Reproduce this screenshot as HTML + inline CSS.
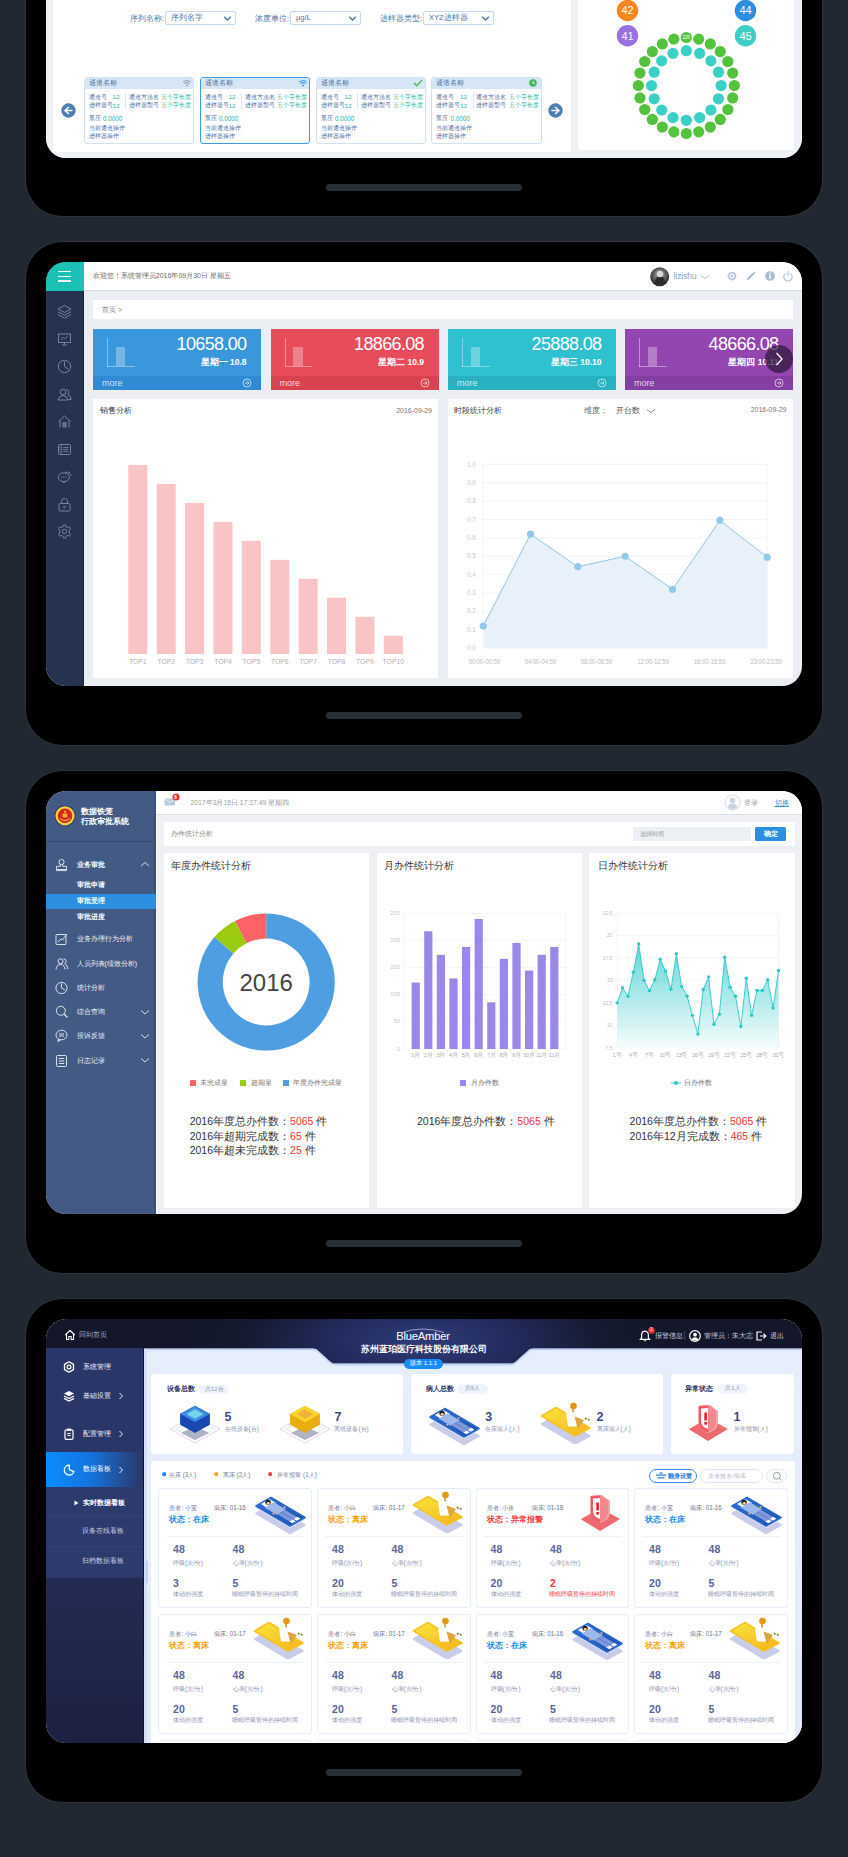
<!DOCTYPE html><html><head><meta charset="utf-8"><style>
*{margin:0;padding:0;box-sizing:border-box}
html,body{width:848px;height:1857px;overflow:hidden;background:#222831;font-family:"Liberation Sans", sans-serif}
div,span,svg{position:absolute}
.t{white-space:nowrap}
i.k{font-style:normal;letter-spacing:.25em;position:static}
.k0 i.k{letter-spacing:.11em}
body.cjk i.k,body.cjk .k0 i.k{letter-spacing:0}
.frame{background:#000;border-radius:36px;left:26px;width:796px;box-shadow:0 0 0 1px rgba(255,255,255,0.05)}
.scr{left:46px;width:756px;border-radius:20px;overflow:hidden}
.stage{left:-46px;width:848px;height:1857px}
.home{left:326px;width:196px;height:7px;border-radius:4px;background:#292f39}
</style></head><body><div class="frame" style="top:-287px;height:503px"></div><div class="home" style="top:184px"></div><div class="frame" style="top:242px;height:503px"></div><div class="home" style="top:712px"></div><div class="frame" style="top:771px;height:502px"></div><div class="home" style="top:1240px"></div><div class="frame" style="top:1299px;height:503px"></div><div class="home" style="top:1769px"></div><div class="scr" style="top:-266px;height:424px;background:#eef1f6"><div class="stage" style="top:266px"><div style="left:46.00px;top:-30.00px;width:756.00px;height:188.00px;background:#eef1f6"></div><div style="left:53.00px;top:-30.00px;width:518.00px;height:182.00px;background:#fff"></div><div style="left:578.00px;top:-30.00px;width:216.00px;height:180.00px;background:#fff;border-radius:0 0 4px 4px"></div><div class="t " style="left:130.00px;top:13.50px;font-size:7.5px;line-height:9.00px;color:#4a72a8;"><i class="k">序列名称</i>:</div><div style="left:165.00px;top:11.00px;width:70.50px;height:13.50px;border:1px solid #c6daf0;border-radius:2px;background:#fff"></div><div class="t " style="left:171.00px;top:13.30px;font-size:7.5px;line-height:9.00px;color:#4a72a8;"><i class="k">序列名字</i></div><svg style="left:223px;top:14.5px" width="9" height="7" viewBox="0 0 9 7"><path d="M1.2 1.8 L4.5 5 L7.8 1.8" fill="none" stroke="#4a72a8" stroke-width="1.3"/></svg><div class="t " style="left:255.00px;top:13.50px;font-size:7.5px;line-height:9.00px;color:#4a72a8;"><i class="k">浓度单位</i>:</div><div style="left:290.00px;top:11.00px;width:70.50px;height:13.50px;border:1px solid #c6daf0;border-radius:2px;background:#fff"></div><div class="t " style="left:296.00px;top:13.30px;font-size:7.5px;line-height:9.00px;color:#4a72a8;">μg/L</div><svg style="left:348px;top:14.5px" width="9" height="7" viewBox="0 0 9 7"><path d="M1.2 1.8 L4.5 5 L7.8 1.8" fill="none" stroke="#4a72a8" stroke-width="1.3"/></svg><div class="t " style="left:380.00px;top:13.50px;font-size:7.5px;line-height:9.00px;color:#4a72a8;"><i class="k">进样器类型</i>:</div><div style="left:423.00px;top:11.00px;width:70.50px;height:13.50px;border:1px solid #c6daf0;border-radius:2px;background:#fff"></div><div class="t " style="left:429.00px;top:13.30px;font-size:7.5px;line-height:9.00px;color:#4a72a8;">XYZ<i class="k">进样器</i></div><svg style="left:481px;top:14.5px" width="9" height="7" viewBox="0 0 9 7"><path d="M1.2 1.8 L4.5 5 L7.8 1.8" fill="none" stroke="#4a72a8" stroke-width="1.3"/></svg><div style="left:83.50px;top:77.00px;width:110.50px;height:66.50px;border:1px solid #cfe1f3;border-radius:3px;background:#fff;overflow:hidden"><div style="left:0.00px;top:0.00px;width:110.50px;height:11.30px;background:#d6e6f6"></div></div><div class="t " style="left:88.50px;top:79.10px;font-size:6.5px;line-height:7.80px;color:#4d6f9f;"><i class="k">通道名称</i></div><svg style="left:181.5px;top:78.6px" width="10" height="8" viewBox="0 0 10 8"><path d="M1 3.2 Q5 -0.3 9 3.2" fill="none" stroke="#9aa0a6" stroke-width="1.1"/><path d="M2.6 4.8 Q5 2.6 7.4 4.8" fill="none" stroke="#9aa0a6" stroke-width="1.1"/><circle cx="5" cy="6.6" r="1" fill="#9aa0a6"/></svg><div class="t " style="left:88.50px;top:93.50px;font-size:5.5px;line-height:6.60px;color:#4b6a9b;"><i class="k">通道号</i></div><div class="t " style="left:112.80px;top:93.90px;font-size:6px;line-height:7.20px;color:#28b4a4;">12</div><div class="t " style="left:88.50px;top:102.40px;font-size:5.5px;line-height:6.60px;color:#4b6a9b;"><i class="k">进样器号</i></div><div class="t " style="left:112.80px;top:102.80px;font-size:6px;line-height:7.20px;color:#28b4a4;">12</div><div style="left:125.00px;top:93.00px;width:0.80px;height:16.00px;background:#dde8f3"></div><div class="t " style="left:128.80px;top:93.50px;font-size:5.5px;line-height:6.60px;color:#4b6a9b;"><i class="k">通道方法名</i></div><div class="t " style="left:161.00px;top:93.50px;font-size:5.5px;line-height:6.60px;color:#28b4a4;"><i class="k">五个字长度</i></div><div class="t " style="left:128.80px;top:102.40px;font-size:5.5px;line-height:6.60px;color:#4b6a9b;"><i class="k">进样器型号</i></div><div class="t " style="left:161.00px;top:102.40px;font-size:5.5px;line-height:6.60px;color:#28b4a4;"><i class="k">五个字长度</i></div><div class="t " style="left:88.50px;top:115.40px;font-size:5.5px;line-height:6.60px;color:#4b6a9b;"><i class="k">泵压</i></div><div class="t " style="left:103.00px;top:115.42px;font-size:6.3px;line-height:7.56px;color:#28b4a4;">0.0000</div><div class="t " style="left:88.50px;top:124.60px;font-size:5.5px;line-height:6.60px;color:#4b6a9b;"><i class="k">当前通道操作</i></div><div class="t " style="left:88.50px;top:133.10px;font-size:5.5px;line-height:6.60px;color:#4b6a9b;"><i class="k">进样器操作</i></div><div style="left:199.50px;top:77.00px;width:110.50px;height:66.50px;border:1.5px solid #3d9be9;border-radius:3px;background:#fff;overflow:hidden"><div style="left:0.00px;top:0.00px;width:110.50px;height:11.30px;background:#d6e6f6"></div></div><div class="t " style="left:204.50px;top:79.10px;font-size:6.5px;line-height:7.80px;color:#4d6f9f;"><i class="k">通道名称</i></div><svg style="left:297.5px;top:78.6px" width="10" height="8" viewBox="0 0 10 8"><path d="M1 3.2 Q5 -0.3 9 3.2" fill="none" stroke="#3d9be9" stroke-width="1.1"/><path d="M2.6 4.8 Q5 2.6 7.4 4.8" fill="none" stroke="#3d9be9" stroke-width="1.1"/><circle cx="5" cy="6.6" r="1" fill="#3d9be9"/></svg><div class="t " style="left:204.50px;top:93.50px;font-size:5.5px;line-height:6.60px;color:#4b6a9b;"><i class="k">通道号</i></div><div class="t " style="left:228.80px;top:93.90px;font-size:6px;line-height:7.20px;color:#28b4a4;">12</div><div class="t " style="left:204.50px;top:102.40px;font-size:5.5px;line-height:6.60px;color:#4b6a9b;"><i class="k">进样器号</i></div><div class="t " style="left:228.80px;top:102.80px;font-size:6px;line-height:7.20px;color:#28b4a4;">12</div><div style="left:241.00px;top:93.00px;width:0.80px;height:16.00px;background:#dde8f3"></div><div class="t " style="left:244.80px;top:93.50px;font-size:5.5px;line-height:6.60px;color:#4b6a9b;"><i class="k">通道方法名</i></div><div class="t " style="left:277.00px;top:93.50px;font-size:5.5px;line-height:6.60px;color:#28b4a4;"><i class="k">五个字长度</i></div><div class="t " style="left:244.80px;top:102.40px;font-size:5.5px;line-height:6.60px;color:#4b6a9b;"><i class="k">进样器型号</i></div><div class="t " style="left:277.00px;top:102.40px;font-size:5.5px;line-height:6.60px;color:#28b4a4;"><i class="k">五个字长度</i></div><div class="t " style="left:204.50px;top:115.40px;font-size:5.5px;line-height:6.60px;color:#4b6a9b;"><i class="k">泵压</i></div><div class="t " style="left:219.00px;top:115.42px;font-size:6.3px;line-height:7.56px;color:#28b4a4;">0.0000</div><div class="t " style="left:204.50px;top:124.60px;font-size:5.5px;line-height:6.60px;color:#4b6a9b;"><i class="k">当前通道操作</i></div><div class="t " style="left:204.50px;top:133.10px;font-size:5.5px;line-height:6.60px;color:#4b6a9b;"><i class="k">进样器操作</i></div><div style="left:315.50px;top:77.00px;width:110.50px;height:66.50px;border:1px solid #cfe1f3;border-radius:3px;background:#fff;overflow:hidden"><div style="left:0.00px;top:0.00px;width:110.50px;height:11.30px;background:#d6e6f6"></div></div><div class="t " style="left:320.50px;top:79.10px;font-size:6.5px;line-height:7.80px;color:#4d6f9f;"><i class="k">通道名称</i></div><svg style="left:412.5px;top:78.6px" width="10" height="8" viewBox="0 0 10 8"><path d="M1 4 L3.8 6.8 L9 1" fill="none" stroke="#4cc04a" stroke-width="1.4"/></svg><div class="t " style="left:320.50px;top:93.50px;font-size:5.5px;line-height:6.60px;color:#4b6a9b;"><i class="k">通道号</i></div><div class="t " style="left:344.80px;top:93.90px;font-size:6px;line-height:7.20px;color:#28b4a4;">12</div><div class="t " style="left:320.50px;top:102.40px;font-size:5.5px;line-height:6.60px;color:#4b6a9b;"><i class="k">进样器号</i></div><div class="t " style="left:344.80px;top:102.80px;font-size:6px;line-height:7.20px;color:#28b4a4;">12</div><div style="left:357.00px;top:93.00px;width:0.80px;height:16.00px;background:#dde8f3"></div><div class="t " style="left:360.80px;top:93.50px;font-size:5.5px;line-height:6.60px;color:#4b6a9b;"><i class="k">通道方法名</i></div><div class="t " style="left:393.00px;top:93.50px;font-size:5.5px;line-height:6.60px;color:#28b4a4;"><i class="k">五个字长度</i></div><div class="t " style="left:360.80px;top:102.40px;font-size:5.5px;line-height:6.60px;color:#4b6a9b;"><i class="k">进样器型号</i></div><div class="t " style="left:393.00px;top:102.40px;font-size:5.5px;line-height:6.60px;color:#28b4a4;"><i class="k">五个字长度</i></div><div class="t " style="left:320.50px;top:115.40px;font-size:5.5px;line-height:6.60px;color:#4b6a9b;"><i class="k">泵压</i></div><div class="t " style="left:335.00px;top:115.42px;font-size:6.3px;line-height:7.56px;color:#28b4a4;">0.0000</div><div class="t " style="left:320.50px;top:124.60px;font-size:5.5px;line-height:6.60px;color:#4b6a9b;"><i class="k">当前通道操作</i></div><div class="t " style="left:320.50px;top:133.10px;font-size:5.5px;line-height:6.60px;color:#4b6a9b;"><i class="k">进样器操作</i></div><div style="left:431.00px;top:77.00px;width:110.50px;height:66.50px;border:1px solid #cfe1f3;border-radius:3px;background:#fff;overflow:hidden"><div style="left:0.00px;top:0.00px;width:110.50px;height:11.30px;background:#d6e6f6"></div></div><div class="t " style="left:436.00px;top:79.10px;font-size:6.5px;line-height:7.80px;color:#4d6f9f;"><i class="k">通道名称</i></div><svg style="left:529px;top:78.6px" width="8" height="8" viewBox="0 0 8 8"><circle cx="4" cy="4" r="3.8" fill="#3dbb5a"/><path d="M4 1.8 V4.3 H5.8" fill="none" stroke="#fff" stroke-width="0.9"/></svg><div class="t " style="left:436.00px;top:93.50px;font-size:5.5px;line-height:6.60px;color:#4b6a9b;"><i class="k">通道号</i></div><div class="t " style="left:460.30px;top:93.90px;font-size:6px;line-height:7.20px;color:#28b4a4;">12</div><div class="t " style="left:436.00px;top:102.40px;font-size:5.5px;line-height:6.60px;color:#4b6a9b;"><i class="k">进样器号</i></div><div class="t " style="left:460.30px;top:102.80px;font-size:6px;line-height:7.20px;color:#28b4a4;">12</div><div style="left:472.50px;top:93.00px;width:0.80px;height:16.00px;background:#dde8f3"></div><div class="t " style="left:476.30px;top:93.50px;font-size:5.5px;line-height:6.60px;color:#4b6a9b;"><i class="k">通道方法名</i></div><div class="t " style="left:508.50px;top:93.50px;font-size:5.5px;line-height:6.60px;color:#28b4a4;"><i class="k">五个字长度</i></div><div class="t " style="left:476.30px;top:102.40px;font-size:5.5px;line-height:6.60px;color:#4b6a9b;"><i class="k">进样器型号</i></div><div class="t " style="left:508.50px;top:102.40px;font-size:5.5px;line-height:6.60px;color:#28b4a4;"><i class="k">五个字长度</i></div><div class="t " style="left:436.00px;top:115.40px;font-size:5.5px;line-height:6.60px;color:#4b6a9b;"><i class="k">泵压</i></div><div class="t " style="left:450.50px;top:115.42px;font-size:6.3px;line-height:7.56px;color:#28b4a4;">0.0000</div><div class="t " style="left:436.00px;top:124.60px;font-size:5.5px;line-height:6.60px;color:#4b6a9b;"><i class="k">当前通道操作</i></div><div class="t " style="left:436.00px;top:133.10px;font-size:5.5px;line-height:6.60px;color:#4b6a9b;"><i class="k">进样器操作</i></div><svg style="left:60.0px;top:102.0px" width="17" height="17" viewBox="0 0 17 17"><circle cx="8.5" cy="8.5" r="7.2" fill="#4f7db5"/><path d="M9 5 L5 8.5 L9 12 M5 8.5 H12.5" fill="none" stroke="#fff" stroke-width="1.5"/></svg><svg style="left:546.5px;top:102.1px" width="17" height="17" viewBox="0 0 17 17"><circle cx="8.5" cy="8.5" r="7.2" fill="#4f7db5"/><path d="M8 5 L12 8.5 L8 12 M12 8.5 H4.5" fill="none" stroke="#fff" stroke-width="1.5"/></svg><svg style="left:578px;top:0px" width="216" height="150" viewBox="578 0 216 150"><circle cx="627.5" cy="10.5" r="10.7" fill="#f7871d"/><circle cx="745.5" cy="10.5" r="10.7" fill="#2b8ee0"/><circle cx="627.5" cy="35.7" r="10.7" fill="#9a70df"/><circle cx="745.5" cy="35.7" r="10.7" fill="#3fcdc4"/><circle cx="686.30" cy="37.50" r="5.6" fill="#55c23f"/><circle cx="698.72" cy="39.14" r="5.6" fill="#55c23f"/><circle cx="710.30" cy="43.93" r="5.6" fill="#55c23f"/><circle cx="720.24" cy="51.56" r="5.6" fill="#55c23f"/><circle cx="727.87" cy="61.50" r="5.6" fill="#55c23f"/><circle cx="732.66" cy="73.08" r="5.6" fill="#55c23f"/><circle cx="734.30" cy="85.50" r="5.6" fill="#55c23f"/><circle cx="732.66" cy="97.92" r="5.6" fill="#55c23f"/><circle cx="727.87" cy="109.50" r="5.6" fill="#55c23f"/><circle cx="720.24" cy="119.44" r="5.6" fill="#55c23f"/><circle cx="710.30" cy="127.07" r="5.6" fill="#55c23f"/><circle cx="698.72" cy="131.86" r="5.6" fill="#55c23f"/><circle cx="686.30" cy="133.50" r="5.6" fill="#55c23f"/><circle cx="673.88" cy="131.86" r="5.6" fill="#55c23f"/><circle cx="662.30" cy="127.07" r="5.6" fill="#55c23f"/><circle cx="652.36" cy="119.44" r="5.6" fill="#55c23f"/><circle cx="644.73" cy="109.50" r="5.6" fill="#55c23f"/><circle cx="639.94" cy="97.92" r="5.6" fill="#55c23f"/><circle cx="638.30" cy="85.50" r="5.6" fill="#55c23f"/><circle cx="639.94" cy="73.08" r="5.6" fill="#55c23f"/><circle cx="644.73" cy="61.50" r="5.6" fill="#55c23f"/><circle cx="652.36" cy="51.56" r="5.6" fill="#55c23f"/><circle cx="662.30" cy="43.93" r="5.6" fill="#55c23f"/><circle cx="673.88" cy="39.14" r="5.6" fill="#55c23f"/><circle cx="686.30" cy="50.70" r="5.6" fill="#3ccfc6"/><circle cx="699.62" cy="53.35" r="5.6" fill="#3ccfc6"/><circle cx="710.91" cy="60.89" r="5.6" fill="#3ccfc6"/><circle cx="718.45" cy="72.18" r="5.6" fill="#3ccfc6"/><circle cx="721.10" cy="85.50" r="5.6" fill="#3ccfc6"/><circle cx="718.45" cy="98.82" r="5.6" fill="#3ccfc6"/><circle cx="710.91" cy="110.11" r="5.6" fill="#3ccfc6"/><circle cx="699.62" cy="117.65" r="5.6" fill="#3ccfc6"/><circle cx="686.30" cy="120.30" r="5.6" fill="#3ccfc6"/><circle cx="672.98" cy="117.65" r="5.6" fill="#3ccfc6"/><circle cx="661.69" cy="110.11" r="5.6" fill="#3ccfc6"/><circle cx="654.15" cy="98.82" r="5.6" fill="#3ccfc6"/><circle cx="651.50" cy="85.50" r="5.6" fill="#3ccfc6"/><circle cx="654.15" cy="72.18" r="5.6" fill="#3ccfc6"/><circle cx="661.69" cy="60.89" r="5.6" fill="#3ccfc6"/><circle cx="672.98" cy="53.35" r="5.6" fill="#3ccfc6"/></svg><div class="t " style="left:427.50px;width:400px;text-align:center;top:4.40px;font-size:11px;line-height:13.20px;color:#fff;">42</div><div class="t " style="left:545.50px;width:400px;text-align:center;top:4.40px;font-size:11px;line-height:13.20px;color:#fff;">44</div><div class="t " style="left:427.50px;width:400px;text-align:center;top:29.60px;font-size:11px;line-height:13.20px;color:#fff;">41</div><div class="t " style="left:545.50px;width:400px;text-align:center;top:29.60px;font-size:11px;line-height:13.20px;color:#fff;">45</div><div class="t " style="left:486.30px;width:400px;text-align:center;top:34.80px;font-size:4.5px;line-height:5.40px;color:#fff;">220</div></div></div><div class="scr" style="top:262px;height:424px;background:#ebeef3"><div class="stage" style="top:-262px"><div style="left:46.00px;top:262.00px;width:37.50px;height:424.00px;background:#253350"></div><div style="left:46.00px;top:262.00px;width:37.50px;height:28.50px;background:#1bc1b5"></div><div style="left:58.00px;top:271.10px;width:13.00px;height:1.30px;background:#fff"></div><div style="left:58.00px;top:275.80px;width:13.00px;height:1.30px;background:#fff"></div><div style="left:58.00px;top:280.40px;width:13.00px;height:1.30px;background:#fff"></div><div style="left:83.00px;top:290.50px;width:1.00px;height:396.00px;background:#1b2336"></div><div style="left:83.50px;top:262.00px;width:718.50px;height:28.50px;background:#fff;border-bottom:1px solid #d5dae1"></div><div class="t " style="left:92.80px;top:272.40px;font-size:7px;line-height:8.40px;color:#6b6b6b;"><i class="k">欢迎您！系统管理员</i>2016<i class="k">年</i>09<i class="k">月</i>30<i class="k">日</i> <i class="k">星期五</i></div><svg style="left:650px;top:267px" width="20" height="20" viewBox="0 0 20 20"><defs><radialGradient id="av" cx="50%" cy="40%" r="60%"><stop offset="0" stop-color="#bbb"/><stop offset="0.5" stop-color="#666"/><stop offset="1" stop-color="#222"/></radialGradient></defs><circle cx="9.7" cy="9.7" r="9.5" fill="url(#av)"/><path d="M4 17 Q6 9 10 8 Q14 9 16 17 Z" fill="#2a2a2a"/><circle cx="10" cy="7" r="3.2" fill="#d8d8d8"/></svg><div class="t " style="left:673.50px;top:271.72px;font-size:8.3px;line-height:9.96px;color:#8aa0bc;">lizishu</div><svg style="left:700px;top:274px" width="10" height="6" viewBox="0 0 10 6"><path d="M1 1.5 L5 4.5 L9 1.5" fill="none" stroke="#9fb0c6" stroke-width="0.9"/></svg><svg style="left:726px;top:270.3px" width="12" height="12" viewBox="0 0 12 12"><circle cx="6" cy="6" r="3.6" fill="none" stroke="#a9bbd3" stroke-width="1.6" stroke-dasharray="1.6 0.9"/><circle cx="6" cy="6" r="3.2" fill="none" stroke="#a9bbd3" stroke-width="1.1"/><circle cx="6" cy="6" r="1.2" fill="#a9bbd3"/></svg><svg style="left:745px;top:270.3px" width="12" height="12" viewBox="0 0 12 12"><path d="M3 9 L9 3" fill="none" stroke="#a9bbd3" stroke-width="2.1"/><path d="M1.6 10.4 L2.6 8.3 L3.7 9.4 Z" fill="#a9bbd3"/><path d="M9.3 1.8 L10.2 2.7" stroke="#a9bbd3" stroke-width="1.6"/></svg><svg style="left:763.5px;top:270.2px" width="12" height="12" viewBox="0 0 12 12"><circle cx="6" cy="6" r="4.8" fill="#a9bbd3"/><rect x="5.3" y="5" width="1.4" height="3.8" fill="#fff"/><circle cx="6" cy="3.4" r="0.8" fill="#fff"/></svg><svg style="left:782px;top:270px" width="12" height="12" viewBox="0 0 12 12"><path d="M3.6 3.4 A4.2 4.2 0 1 0 8.4 3.4" fill="none" stroke="#a9bbd3" stroke-width="1.1"/><path d="M6 1.2 V6" stroke="#a9bbd3" stroke-width="1.1"/></svg><div style="left:93.00px;top:300.00px;width:700.00px;height:18.70px;background:#fff"></div><div class="t " style="left:102.00px;top:305.80px;font-size:7px;line-height:8.40px;color:#808080;"><i class="k">首页</i> &gt;</div><svg style="left:56.80px;top:304.20px" width="15" height="15" viewBox="0 0 15 15"><path d="M7.5 1.5 L14 5 L7.5 8.5 L1 5 Z M1 7.8 L7.5 11.3 L14 7.8 M1 10.6 L7.5 14.1 L14 10.6" fill="none" stroke="#7f8ca4" stroke-width="0.9"/></svg><svg style="left:56.80px;top:331.70px" width="15" height="15" viewBox="0 0 15 15"><rect x="1.5" y="2" width="12" height="8.5" fill="none" stroke="#7f8ca4" stroke-width="0.9"/><path d="M4 8 L6.3 5.6 L7.8 6.8 L10.8 4" fill="none" stroke="#7f8ca4" stroke-width="0.8"/><path d="M7.5 10.5 V12.5 M5 13 H10" stroke="#7f8ca4" stroke-width="0.9"/></svg><svg style="left:56.80px;top:359.20px" width="15" height="15" viewBox="0 0 15 15"><circle cx="7.5" cy="7.5" r="6.2" fill="none" stroke="#7f8ca4" stroke-width="0.9"/><path d="M7.5 2.5 V7.5 L11.2 10" fill="none" stroke="#7f8ca4" stroke-width="0.9"/></svg><svg style="left:56.80px;top:386.70px" width="15" height="15" viewBox="0 0 15 15"><circle cx="6" cy="5" r="2.8" fill="none" stroke="#7f8ca4" stroke-width="0.9"/><path d="M1 13 Q1.5 8.8 6 8.6 Q10.5 8.8 11 13 Z" fill="none" stroke="#7f8ca4" stroke-width="0.9"/><path d="M9.3 2.4 A2.8 2.8 0 0 1 10.6 7.6 Q14 8.5 14.2 12.6 L11.5 12.6" fill="none" stroke="#7f8ca4" stroke-width="0.9"/></svg><svg style="left:56.80px;top:414.20px" width="15" height="15" viewBox="0 0 15 15"><path d="M1.5 7.5 L7.5 2 L13.5 7.5 M3 6.5 V13.5 M12 6.5 V13.5" fill="none" stroke="#7f8ca4" stroke-width="0.9"/><rect x="5.3" y="8" width="4.4" height="5.5" fill="#7f8ca4" opacity="0.7"/></svg><svg style="left:56.80px;top:441.70px" width="15" height="15" viewBox="0 0 15 15"><rect x="1.5" y="2.5" width="12" height="10" rx="1" fill="none" stroke="#7f8ca4" stroke-width="0.9"/><path d="M4.2 2.5 V12.5 M6.2 5.5 H11.5 M6.2 7.5 H11.5 M6.2 9.5 H11.5 M2.5 5.5 H3.5 M2.5 7.5 H3.5 M2.5 9.5 H3.5" stroke="#7f8ca4" stroke-width="0.8"/></svg><svg style="left:56.80px;top:469.20px" width="15" height="15" viewBox="0 0 15 15"><ellipse cx="6.8" cy="8.2" rx="5.6" ry="4.4" fill="none" stroke="#7f8ca4" stroke-width="0.9"/><path d="M8 3.3 Q13.8 2.4 14 6.6" fill="none" stroke="#7f8ca4" stroke-width="0.9"/><path d="M5.4 12.4 L6.8 14 L8.2 12.5" fill="none" stroke="#7f8ca4" stroke-width="0.9"/><circle cx="4.6" cy="8.2" r="0.6" fill="#7f8ca4"/><circle cx="6.8" cy="8.2" r="0.6" fill="#7f8ca4"/><circle cx="9" cy="8.2" r="0.6" fill="#7f8ca4"/></svg><svg style="left:56.80px;top:496.70px" width="15" height="15" viewBox="0 0 15 15"><rect x="2" y="6.5" width="11" height="7.5" rx="1.2" fill="none" stroke="#7f8ca4" stroke-width="0.9"/><path d="M4.5 6.5 V4.5 A3 3 0 0 1 10.5 4.5 V6.5" fill="none" stroke="#7f8ca4" stroke-width="0.9"/><circle cx="7.5" cy="10.2" r="1" fill="none" stroke="#7f8ca4" stroke-width="0.8"/></svg><svg style="left:56.80px;top:524.20px" width="15" height="15" viewBox="0 0 15 15"><circle cx="7.5" cy="7.5" r="2.2" fill="none" stroke="#7f8ca4" stroke-width="0.9"/><path d="M6.4 1 H8.6 L9 2.8 L10.6 3.6 L12.3 2.8 L13.5 4.6 L12.3 6 V9 L13.5 10.4 L12.3 12.2 L10.6 11.4 L9 12.2 L8.6 14 H6.4 L6 12.2 L4.4 11.4 L2.7 12.2 L1.5 10.4 L2.7 9 V6 L1.5 4.6 L2.7 2.8 L4.4 3.6 L6 2.8 Z" fill="none" stroke="#7f8ca4" stroke-width="0.9" stroke-linejoin="round"/></svg><div style="left:93.00px;top:328.50px;width:168.00px;height:61.50px;background:#3a97dc"></div><div style="left:93.00px;top:376.00px;width:168.00px;height:14.00px;background:#308bd4"></div><div style="left:107.30px;top:338.00px;width:0.90px;height:28.50px;background:rgba(255,255,255,0.4)"></div><div style="left:107.30px;top:365.60px;width:27.70px;height:0.90px;background:rgba(255,255,255,0.4)"></div><div style="left:115.80px;top:346.80px;width:9.50px;height:19.00px;background:rgba(255,255,255,0.3)"></div><div class="t " style="right:601.50px;top:334.00px;font-size:18px;line-height:21.60px;color:#fff;letter-spacing:-0.65px">10658.00</div><div class="t " style="right:601.50px;top:356.70px;font-size:8.5px;line-height:10.20px;color:#fff;font-weight:bold"><i class="k">星期一</i> 10.8</div><div class="t " style="left:102.00px;top:377.60px;font-size:9px;line-height:10.80px;color:rgba(255,255,255,0.78);">more</div><svg style="left:242px;top:378.2px" width="10" height="10" viewBox="0 0 10 10"><circle cx="5" cy="5" r="4" fill="none" stroke="rgba(255,255,255,0.8)" stroke-width="0.8"/><path d="M3 5 H7 M5.3 3.3 L7 5 L5.3 6.7" fill="none" stroke="rgba(255,255,255,0.8)" stroke-width="0.8"/></svg><div style="left:270.50px;top:328.50px;width:168.00px;height:61.50px;background:#e74c5b"></div><div style="left:270.50px;top:376.00px;width:168.00px;height:14.00px;background:#d9424f"></div><div style="left:284.80px;top:338.00px;width:0.90px;height:28.50px;background:rgba(255,255,255,0.4)"></div><div style="left:284.80px;top:365.60px;width:27.70px;height:0.90px;background:rgba(255,255,255,0.4)"></div><div style="left:293.30px;top:346.80px;width:9.50px;height:19.00px;background:rgba(255,255,255,0.3)"></div><div class="t " style="right:424.00px;top:334.00px;font-size:18px;line-height:21.60px;color:#fff;letter-spacing:-0.65px">18866.08</div><div class="t " style="right:424.00px;top:356.70px;font-size:8.5px;line-height:10.20px;color:#fff;font-weight:bold"><i class="k">星期二</i> 10.9</div><div class="t " style="left:279.50px;top:377.60px;font-size:9px;line-height:10.80px;color:rgba(255,255,255,0.78);">more</div><svg style="left:419.5px;top:378.2px" width="10" height="10" viewBox="0 0 10 10"><circle cx="5" cy="5" r="4" fill="none" stroke="rgba(255,255,255,0.8)" stroke-width="0.8"/><path d="M3 5 H7 M5.3 3.3 L7 5 L5.3 6.7" fill="none" stroke="rgba(255,255,255,0.8)" stroke-width="0.8"/></svg><div style="left:448.00px;top:328.50px;width:168.00px;height:61.50px;background:#2fc1d0"></div><div style="left:448.00px;top:376.00px;width:168.00px;height:14.00px;background:#28b2c1"></div><div style="left:462.30px;top:338.00px;width:0.90px;height:28.50px;background:rgba(255,255,255,0.4)"></div><div style="left:462.30px;top:365.60px;width:27.70px;height:0.90px;background:rgba(255,255,255,0.4)"></div><div style="left:470.80px;top:346.80px;width:9.50px;height:19.00px;background:rgba(255,255,255,0.3)"></div><div class="t " style="right:246.50px;top:334.00px;font-size:18px;line-height:21.60px;color:#fff;letter-spacing:-0.65px">25888.08</div><div class="t " style="right:246.50px;top:356.70px;font-size:8.5px;line-height:10.20px;color:#fff;font-weight:bold"><i class="k">星期三</i> 10.10</div><div class="t " style="left:457.00px;top:377.60px;font-size:9px;line-height:10.80px;color:rgba(255,255,255,0.78);">more</div><svg style="left:597px;top:378.2px" width="10" height="10" viewBox="0 0 10 10"><circle cx="5" cy="5" r="4" fill="none" stroke="rgba(255,255,255,0.8)" stroke-width="0.8"/><path d="M3 5 H7 M5.3 3.3 L7 5 L5.3 6.7" fill="none" stroke="rgba(255,255,255,0.8)" stroke-width="0.8"/></svg><div style="left:625.00px;top:328.50px;width:168.00px;height:61.50px;background:#9346b0"></div><div style="left:625.00px;top:376.00px;width:168.00px;height:14.00px;background:#853ea1"></div><div style="left:639.30px;top:338.00px;width:0.90px;height:28.50px;background:rgba(255,255,255,0.4)"></div><div style="left:639.30px;top:365.60px;width:27.70px;height:0.90px;background:rgba(255,255,255,0.4)"></div><div style="left:647.80px;top:346.80px;width:9.50px;height:19.00px;background:rgba(255,255,255,0.3)"></div><div class="t " style="right:69.50px;top:334.00px;font-size:18px;line-height:21.60px;color:#fff;letter-spacing:-0.65px">48666.08</div><div class="t " style="right:69.50px;top:356.70px;font-size:8.5px;line-height:10.20px;color:#fff;font-weight:bold"><i class="k">星期四</i> 10.11</div><div class="t " style="left:634.00px;top:377.60px;font-size:9px;line-height:10.80px;color:rgba(255,255,255,0.78);">more</div><svg style="left:774px;top:378.2px" width="10" height="10" viewBox="0 0 10 10"><circle cx="5" cy="5" r="4" fill="none" stroke="rgba(255,255,255,0.8)" stroke-width="0.8"/><path d="M3 5 H7 M5.3 3.3 L7 5 L5.3 6.7" fill="none" stroke="rgba(255,255,255,0.8)" stroke-width="0.8"/></svg><svg style="left:764.5px;top:344.5px" width="28" height="28" viewBox="0 0 28 28"><circle cx="14" cy="14" r="14" fill="rgba(45,25,55,0.72)"/><path d="M11.5 8 L17 14 L11.5 20" fill="none" stroke="#fff" stroke-width="1.3"/></svg><div style="left:92.60px;top:399.20px;width:345.40px;height:278.80px;background:#fff"></div><div style="left:447.70px;top:399.20px;width:345.30px;height:278.80px;background:#fff"></div><div class="t " style="left:99.90px;top:405.90px;font-size:8px;line-height:9.60px;color:#3a3a3a;"><i class="k">销售分析</i></div><div class="t " style="right:416.00px;top:406.50px;font-size:7px;line-height:8.40px;color:#777;">2016-09-29</div><svg style="left:92px;top:399px" width="346" height="279" viewBox="92 399 346 279"><rect x="128.30" y="465.00" width="19" height="189.00" fill="#f9c4c5"/><rect x="156.69" y="483.97" width="19" height="170.03" fill="#f9c4c5"/><rect x="185.08" y="502.94" width="19" height="151.06" fill="#f9c4c5"/><rect x="213.47" y="521.91" width="19" height="132.09" fill="#f9c4c5"/><rect x="241.86" y="540.88" width="19" height="113.12" fill="#f9c4c5"/><rect x="270.25" y="559.85" width="19" height="94.15" fill="#f9c4c5"/><rect x="298.64" y="578.82" width="19" height="75.18" fill="#f9c4c5"/><rect x="327.03" y="597.79" width="19" height="56.21" fill="#f9c4c5"/><rect x="355.42" y="616.76" width="19" height="37.24" fill="#f9c4c5"/><rect x="383.81" y="635.73" width="19" height="18.27" fill="#f9c4c5"/></svg><div class="t " style="left:-62.20px;width:400px;text-align:center;top:658.32px;font-size:6.8px;line-height:8.16px;color:#b0b0b0;">TOP1</div><div class="t " style="left:-33.81px;width:400px;text-align:center;top:658.32px;font-size:6.8px;line-height:8.16px;color:#b0b0b0;">TOP2</div><div class="t " style="left:-5.42px;width:400px;text-align:center;top:658.32px;font-size:6.8px;line-height:8.16px;color:#b0b0b0;">TOP3</div><div class="t " style="left:22.97px;width:400px;text-align:center;top:658.32px;font-size:6.8px;line-height:8.16px;color:#b0b0b0;">TOP4</div><div class="t " style="left:51.36px;width:400px;text-align:center;top:658.32px;font-size:6.8px;line-height:8.16px;color:#b0b0b0;">TOP5</div><div class="t " style="left:79.75px;width:400px;text-align:center;top:658.32px;font-size:6.8px;line-height:8.16px;color:#b0b0b0;">TOP6</div><div class="t " style="left:108.14px;width:400px;text-align:center;top:658.32px;font-size:6.8px;line-height:8.16px;color:#b0b0b0;">TOP7</div><div class="t " style="left:136.53px;width:400px;text-align:center;top:658.32px;font-size:6.8px;line-height:8.16px;color:#b0b0b0;">TOP8</div><div class="t " style="left:164.92px;width:400px;text-align:center;top:658.32px;font-size:6.8px;line-height:8.16px;color:#b0b0b0;">TOP9</div><div class="t " style="left:193.31px;width:400px;text-align:center;top:658.32px;font-size:6.8px;line-height:8.16px;color:#b0b0b0;">TOP10</div><div class="t " style="left:453.80px;top:405.80px;font-size:8px;line-height:9.60px;color:#3a3a3a;"><i class="k">时段统计分析</i></div><div class="t " style="left:584.30px;top:406.10px;font-size:7.5px;line-height:9.00px;color:#666;"><i class="k">维度：</i></div><div class="t " style="left:616.40px;top:406.10px;font-size:7.5px;line-height:9.00px;color:#555;"><i class="k">开台数</i></div><svg style="left:646px;top:408px" width="10" height="6" viewBox="0 0 10 6"><path d="M1 1.5 L5 4.5 L9 1.5" fill="none" stroke="#777" stroke-width="0.9"/></svg><div class="t " style="right:61.50px;top:406.40px;font-size:7px;line-height:8.40px;color:#777;">2016-09-29</div><svg style="left:447px;top:399px" width="346" height="279" viewBox="447 399 346 279"><line x1="483.2" y1="648.10" x2="767.2" y2="648.10" stroke="#eef0f3" stroke-width="0.8"/><line x1="483.2" y1="629.73" x2="767.2" y2="629.73" stroke="#eef0f3" stroke-width="0.8"/><line x1="483.2" y1="611.36" x2="767.2" y2="611.36" stroke="#eef0f3" stroke-width="0.8"/><line x1="483.2" y1="592.99" x2="767.2" y2="592.99" stroke="#eef0f3" stroke-width="0.8"/><line x1="483.2" y1="574.62" x2="767.2" y2="574.62" stroke="#eef0f3" stroke-width="0.8"/><line x1="483.2" y1="556.25" x2="767.2" y2="556.25" stroke="#eef0f3" stroke-width="0.8"/><line x1="483.2" y1="537.88" x2="767.2" y2="537.88" stroke="#eef0f3" stroke-width="0.8"/><line x1="483.2" y1="519.51" x2="767.2" y2="519.51" stroke="#eef0f3" stroke-width="0.8"/><line x1="483.2" y1="501.14" x2="767.2" y2="501.14" stroke="#eef0f3" stroke-width="0.8"/><line x1="483.2" y1="482.77" x2="767.2" y2="482.77" stroke="#eef0f3" stroke-width="0.8"/><line x1="483.2" y1="464.40" x2="767.2" y2="464.40" stroke="#eef0f3" stroke-width="0.8"/><line x1="483.2" y1="464.4" x2="483.2" y2="648.1" stroke="#eef0f3" stroke-width="0.8"/><line x1="767.2" y1="464.4" x2="767.2" y2="648.1" stroke="#eef0f3" stroke-width="0.8"/><polygon points="483.2,648.1 483.20,626.06 530.53,534.21 577.87,566.72 625.20,556.25 672.53,589.32 719.87,520.43 767.20,557.17 767.2,648.1" fill="#e8f1fa"/><polyline points="483.20,626.06 530.53,534.21 577.87,566.72 625.20,556.25 672.53,589.32 719.87,520.43 767.20,557.17" fill="none" stroke="#92c6e5" stroke-width="1"/><circle cx="483.20" cy="626.06" r="3.6" fill="#93c8e6"/><circle cx="530.53" cy="534.21" r="3.6" fill="#93c8e6"/><circle cx="577.87" cy="566.72" r="3.6" fill="#93c8e6"/><circle cx="625.20" cy="556.25" r="3.6" fill="#93c8e6"/><circle cx="672.53" cy="589.32" r="3.6" fill="#93c8e6"/><circle cx="719.87" cy="520.43" r="3.6" fill="#93c8e6"/><circle cx="767.20" cy="557.17" r="3.6" fill="#93c8e6"/></svg><div class="t " style="right:372.00px;top:644.20px;font-size:6.5px;line-height:7.80px;color:#c9c9c9;">0.0</div><div class="t " style="right:372.00px;top:625.83px;font-size:6.5px;line-height:7.80px;color:#c9c9c9;">0.1</div><div class="t " style="right:372.00px;top:607.46px;font-size:6.5px;line-height:7.80px;color:#c9c9c9;">0.2</div><div class="t " style="right:372.00px;top:589.09px;font-size:6.5px;line-height:7.80px;color:#c9c9c9;">0.3</div><div class="t " style="right:372.00px;top:570.72px;font-size:6.5px;line-height:7.80px;color:#c9c9c9;">0.4</div><div class="t " style="right:372.00px;top:552.35px;font-size:6.5px;line-height:7.80px;color:#c9c9c9;">0.5</div><div class="t " style="right:372.00px;top:533.98px;font-size:6.5px;line-height:7.80px;color:#c9c9c9;">0.6</div><div class="t " style="right:372.00px;top:515.61px;font-size:6.5px;line-height:7.80px;color:#c9c9c9;">0.7</div><div class="t " style="right:372.00px;top:497.24px;font-size:6.5px;line-height:7.80px;color:#c9c9c9;">0.8</div><div class="t " style="right:372.00px;top:478.87px;font-size:6.5px;line-height:7.80px;color:#c9c9c9;">0.9</div><div class="t " style="right:372.00px;top:460.50px;font-size:6.5px;line-height:7.80px;color:#c9c9c9;">1.0</div><div class="t " style="left:284.30px;width:400px;text-align:center;top:658.12px;font-size:6.3px;line-height:7.56px;color:#bdbdbd;letter-spacing:-0.2px">00:00-00:59</div><div class="t " style="left:340.30px;width:400px;text-align:center;top:658.12px;font-size:6.3px;line-height:7.56px;color:#bdbdbd;letter-spacing:-0.2px">04:00-04:59</div><div class="t " style="left:396.30px;width:400px;text-align:center;top:658.12px;font-size:6.3px;line-height:7.56px;color:#bdbdbd;letter-spacing:-0.2px">08:00-08:59</div><div class="t " style="left:453.00px;width:400px;text-align:center;top:658.12px;font-size:6.3px;line-height:7.56px;color:#bdbdbd;letter-spacing:-0.2px">12:00-12:59</div><div class="t " style="left:509.50px;width:400px;text-align:center;top:658.12px;font-size:6.3px;line-height:7.56px;color:#bdbdbd;letter-spacing:-0.2px">16:00-16:59</div><div class="t " style="left:565.90px;width:400px;text-align:center;top:658.12px;font-size:6.3px;line-height:7.56px;color:#bdbdbd;letter-spacing:-0.2px">23:00-23:59</div></div></div><div class="scr" style="top:791px;height:423px;background:#eef0f4"><div class="stage" style="top:-791px"><div style="left:46.00px;top:791.00px;width:109.60px;height:423.00px;background:#435a84"></div><div style="left:46.00px;top:841.00px;width:109.60px;height:1.00px;background:#34486d"></div><div style="left:154.40px;top:791.00px;width:1.20px;height:423.00px;background:#394f78"></div><div style="left:155.60px;top:814.50px;width:1.00px;height:400.00px;background:#fff"></div><svg style="left:54px;top:805px" width="22" height="22" viewBox="0 0 22 22"><circle cx="11" cy="10.8" r="10.6" fill="#2b3f78"/><circle cx="11" cy="10.8" r="9.6" fill="#f4d23a"/><circle cx="11" cy="10.8" r="7.3" fill="#d9261c"/><path d="M6 13.5 Q11 17.5 16 13.5" fill="none" stroke="#f4d23a" stroke-width="1"/><rect x="8.6" y="8.5" width="4.8" height="4" fill="#f4d23a" opacity="0.8"/><circle cx="11" cy="6.8" r="1" fill="#f4d23a"/></svg><div class="t " style="left:81.00px;top:806.80px;font-size:8px;line-height:9.60px;color:#fff;font-weight:bold"><i class="k">数据铁笼</i></div><div class="t " style="left:81.00px;top:816.60px;font-size:8px;line-height:9.60px;color:#fff;font-weight:bold"><i class="k">行政审批系统</i></div><svg style="left:54.5px;top:857.8px" width="14" height="14" viewBox="0 0 14 14"><circle cx="6.5" cy="4" r="2.6" fill="none" stroke="#e9eef6" stroke-width="0.9"/><path d="M5.3 6.4 V8.3 H1.5 V11.5 H11.5 V8.3 H7.7 V6.4 M1 12.6 H12" fill="none" stroke="#e9eef6" stroke-width="0.9"/></svg><div class="t " style="left:76.50px;top:860.72px;font-size:6.8px;line-height:8.16px;color:#fff;font-weight:bold"><i class="k">业务审批</i></div><svg style="left:139.5px;top:861.2px" width="10" height="7" viewBox="0 0 10 7"><path d="M1 5 L5 1.5 L9 5" fill="none" stroke="#e6ebf3" stroke-width="0.9"/></svg><div style="left:46.00px;top:893.50px;width:109.60px;height:15.80px;background:#2d8fe0"></div><div class="t " style="left:76.50px;top:881.40px;font-size:6.5px;line-height:7.80px;color:#fff;font-weight:bold"><i class="k">审批申请</i></div><div class="t " style="left:76.50px;top:897.10px;font-size:6.5px;line-height:7.80px;color:#fff;font-weight:bold"><i class="k">审批受理</i></div><div class="t " style="left:76.50px;top:913.20px;font-size:6.5px;line-height:7.80px;color:#fff;font-weight:bold"><i class="k">审批进度</i></div><svg style="left:54.5px;top:932px" width="14" height="14" viewBox="0 0 14 14"><rect x="1" y="2.5" width="10" height="10" rx="0.8" fill="none" stroke="#e9eef6" stroke-width="0.9"/><path d="M3 10 L6 6.8 L7.5 8 L12 2" fill="none" stroke="#e9eef6" stroke-width="0.9"/></svg><div class="t " style="left:76.50px;top:934.92px;font-size:6.8px;line-height:8.16px;color:#eef2f8;"><i class="k">业务办理行为分析</i></div><svg style="left:54.5px;top:956.8px" width="14" height="14" viewBox="0 0 14 14"><circle cx="5.5" cy="4.2" r="2.5" fill="none" stroke="#e9eef6" stroke-width="0.9"/><path d="M1 12.5 Q1.3 7.6 5.5 7.4 Q9.7 7.6 10 12.5" fill="none" stroke="#e9eef6" stroke-width="0.9"/><path d="M8.6 1.8 A2.5 2.5 0 0 1 9.6 6.6 Q12.6 7.6 12.8 12" fill="none" stroke="#e9eef6" stroke-width="0.9"/></svg><div class="t " style="left:76.50px;top:959.72px;font-size:6.8px;line-height:8.16px;color:#eef2f8;"><i class="k">人员列表</i>(<i class="k">绩效分析</i>)</div><svg style="left:54.5px;top:981.3px" width="14" height="14" viewBox="0 0 14 14"><circle cx="6.5" cy="7" r="5.6" fill="none" stroke="#e9eef6" stroke-width="0.9"/><path d="M6.5 2.5 V7 L10 9" fill="none" stroke="#e9eef6" stroke-width="0.9"/></svg><div class="t " style="left:76.50px;top:984.22px;font-size:6.8px;line-height:8.16px;color:#eef2f8;"><i class="k">统计分析</i></div><svg style="left:54.5px;top:1005.3px" width="14" height="14" viewBox="0 0 14 14"><circle cx="5.8" cy="5.8" r="4.5" fill="none" stroke="#e9eef6" stroke-width="0.9"/><path d="M9 9 L12.5 12.5" stroke="#e9eef6" stroke-width="1.1"/></svg><div class="t " style="left:76.50px;top:1008.22px;font-size:6.8px;line-height:8.16px;color:#eef2f8;"><i class="k">综合查询</i></div><svg style="left:139.5px;top:1009.0px" width="10" height="7" viewBox="0 0 10 7"><path d="M1 1.5 L5 5 L9 1.5" fill="none" stroke="#e6ebf3" stroke-width="0.9"/></svg><svg style="left:54.5px;top:1029.4px" width="14" height="14" viewBox="0 0 14 14"><ellipse cx="6.5" cy="6" rx="5.5" ry="4.8" fill="none" stroke="#e9eef6" stroke-width="0.9"/><path d="M3.5 10 L2.8 12.6 L5.8 10.8 M4 5 H9 M4 7 H9" fill="none" stroke="#e9eef6" stroke-width="0.9"/></svg><div class="t " style="left:76.50px;top:1032.32px;font-size:6.8px;line-height:8.16px;color:#eef2f8;"><i class="k">投诉反馈</i></div><svg style="left:139.5px;top:1033.1000000000001px" width="10" height="7" viewBox="0 0 10 7"><path d="M1 1.5 L5 5 L9 1.5" fill="none" stroke="#e6ebf3" stroke-width="0.9"/></svg><svg style="left:54.5px;top:1053.7px" width="14" height="14" viewBox="0 0 14 14"><rect x="1.5" y="1.5" width="10" height="11" rx="1" fill="none" stroke="#e9eef6" stroke-width="0.9"/><path d="M3.8 4.5 H9.2 M3.8 7 H9.2 M3.8 9.5 H9.2" stroke="#e9eef6" stroke-width="0.9"/></svg><div class="t " style="left:76.50px;top:1056.62px;font-size:6.8px;line-height:8.16px;color:#eef2f8;"><i class="k">日志记录</i></div><svg style="left:139.5px;top:1057.4px" width="10" height="7" viewBox="0 0 10 7"><path d="M1 1.5 L5 5 L9 1.5" fill="none" stroke="#e6ebf3" stroke-width="0.9"/></svg><div style="left:155.60px;top:791.00px;width:646.40px;height:23.50px;background:#fff;border-bottom:1px solid #dde1e7"></div><svg style="left:163.8px;top:798.3px" width="12" height="8" viewBox="0 0 12 8"><rect x="0.5" y="0.5" width="10.5" height="7" fill="#b9c9dd"/><path d="M0.8 0.8 L5.75 4.6 L10.7 0.8" fill="none" stroke="#fff" stroke-width="0.8"/></svg><svg style="left:171.5px;top:793.4px" width="8" height="8" viewBox="0 0 8 8"><circle cx="4" cy="4" r="3.6" fill="#f0302f"/></svg><div class="t " style="left:-24.50px;width:400px;text-align:center;top:794.70px;font-size:4.5px;line-height:5.40px;color:#fff;font-weight:bold">8</div><div class="t " style="left:190.50px;top:798.62px;font-size:6.8px;line-height:8.16px;color:#9a9a9a;">2017<i class="k">年</i>3<i class="k">月</i>16<i class="k">日</i>  17:27:49  <i class="k">星期四</i></div><svg style="left:724px;top:794px" width="17" height="17" viewBox="0 0 17 17"><circle cx="8.5" cy="8.5" r="7.6" fill="#fff" stroke="#c9d4e2" stroke-width="0.9"/><circle cx="8.5" cy="6.6" r="2.8" fill="#c9d4e2"/><path d="M3.6 13.8 Q4.6 9.6 8.5 9.6 Q12.4 9.6 13.4 13.8 Q8.5 16.6 3.6 13.8 Z" fill="#c9d4e2"/></svg><div class="t " style="left:744.00px;top:798.80px;font-size:7px;line-height:8.40px;color:#9a9a9a;"><i class="k">登录</i></div><div class="t " style="left:774.60px;top:798.80px;font-size:7px;line-height:8.40px;color:#2d8fe0;text-decoration:underline"><i class="k">切换</i></div><div style="left:163.80px;top:821.60px;width:631.20px;height:24.20px;background:#fff"></div><div class="t " style="left:171.40px;top:829.90px;font-size:6.5px;line-height:7.80px;color:#888;"><i class="k">办件统计分析</i></div><div style="left:632.90px;top:827.00px;width:118.10px;height:14.00px;background:#eceff4;border-radius:1px"></div><div class="t " style="left:639.50px;top:830.22px;font-size:6.3px;line-height:7.56px;color:#999;"><i class="k">选择时间</i></div><div style="left:755.00px;top:827.00px;width:31.40px;height:14.00px;background:#2d8fe0;border-radius:1.5px"></div><div class="t " style="left:570.70px;width:400px;text-align:center;top:830.10px;font-size:6.5px;line-height:7.80px;color:#fff;font-weight:bold"><i class="k">确定</i></div><div style="left:164.00px;top:853.10px;width:205.30px;height:355.30px;background:#fff"></div><div style="left:376.70px;top:853.10px;width:205.30px;height:355.30px;background:#fff"></div><div style="left:589.00px;top:853.10px;width:205.80px;height:355.30px;background:#fff"></div><div class="t " style="left:171.30px;top:860.26px;font-size:9.9px;line-height:11.88px;color:#333;"><i class="k">年度办件统计分析</i></div><div class="t " style="left:384.00px;top:860.26px;font-size:9.9px;line-height:11.88px;color:#333;"><i class="k">月办件统计分析</i></div><div class="t " style="left:597.60px;top:860.26px;font-size:9.9px;line-height:11.88px;color:#333;"><i class="k">日办件统计分析</i></div><svg style="left:164px;top:853px" width="206" height="356" viewBox="164 853 206 356"><path d="M266.20 913.40 A68.6 68.6 0 1 1 214.43 936.99 L233.45 953.53 A43.4 43.4 0 1 0 266.20 938.60 Z" fill="#4e9ee1"/><path d="M214.43 936.99 A68.6 68.6 0 0 1 235.06 920.88 L246.50 943.33 A43.4 43.4 0 0 0 233.45 953.53 Z" fill="#99cc0f"/><path d="M235.06 920.88 A68.6 68.6 0 0 1 266.20 913.40 L266.20 938.60 A43.4 43.4 0 0 0 246.50 943.33 Z" fill="#fc6266"/></svg><div class="t " style="left:66.20px;width:400px;text-align:center;top:968.60px;font-size:24px;line-height:28.80px;color:#444;">2016</div><div style="left:190.30px;top:1080.00px;width:5.80px;height:5.80px;background:#fc6266"></div><div class="t " style="left:199.80px;top:1078.80px;font-size:7px;line-height:8.40px;color:#777;"><i class="k">未完成量</i></div><div style="left:240.40px;top:1080.00px;width:5.80px;height:5.80px;background:#99cc0f"></div><div class="t " style="left:250.50px;top:1078.80px;font-size:7px;line-height:8.40px;color:#777;"><i class="k">超期量</i></div><div style="left:283.30px;top:1080.00px;width:5.80px;height:5.80px;background:#4e9ee1"></div><div class="t " style="left:293.30px;top:1078.80px;font-size:7px;line-height:8.40px;color:#777;"><i class="k">年度办件完成量</i></div><div class="t k0" style="left:189.70px;top:1115.30px;font-size:10.5px;line-height:12.60px;color:#333;">2016<i class="k">年度总办件数：</i><span style="position:static;color:#f5333a">5065</span> <i class="k">件</i></div><div class="t k0" style="left:189.70px;top:1129.70px;font-size:10.5px;line-height:12.60px;color:#333;">2016<i class="k">年超期完成数：</i><span style="position:static;color:#f5333a">65</span> <i class="k">件</i></div><div class="t k0" style="left:189.70px;top:1143.80px;font-size:10.5px;line-height:12.60px;color:#333;">2016<i class="k">年超未完成数：</i><span style="position:static;color:#f5333a">25</span> <i class="k">件</i></div><svg style="left:377px;top:853px" width="206" height="356" viewBox="377 853 206 356"><line x1="404.3" y1="1049.00" x2="565.7" y2="1049.00" stroke="#f0f0f0" stroke-width="0.7"/><line x1="404.3" y1="1021.86" x2="565.7" y2="1021.86" stroke="#f0f0f0" stroke-width="0.7"/><line x1="404.3" y1="994.72" x2="565.7" y2="994.72" stroke="#f0f0f0" stroke-width="0.7"/><line x1="404.3" y1="967.58" x2="565.7" y2="967.58" stroke="#f0f0f0" stroke-width="0.7"/><line x1="404.3" y1="940.44" x2="565.7" y2="940.44" stroke="#f0f0f0" stroke-width="0.7"/><line x1="404.3" y1="913.30" x2="565.7" y2="913.30" stroke="#f0f0f0" stroke-width="0.7"/><line x1="404.3" y1="913.3" x2="404.3" y2="1049" stroke="#f0f0f0" stroke-width="0.7"/><line x1="565.7" y1="913.3" x2="565.7" y2="1049" stroke="#f0f0f0" stroke-width="0.7"/><rect x="411.60" y="982.51" width="8.2" height="66.49" fill="#9b87e7"/><rect x="424.20" y="931.21" width="8.2" height="117.79" fill="#9b87e7"/><rect x="436.80" y="954.82" width="8.2" height="94.18" fill="#9b87e7"/><rect x="449.40" y="978.44" width="8.2" height="70.56" fill="#9b87e7"/><rect x="462.00" y="946.95" width="8.2" height="102.05" fill="#9b87e7"/><rect x="474.60" y="919.00" width="8.2" height="130.00" fill="#9b87e7"/><rect x="487.20" y="1002.32" width="8.2" height="46.68" fill="#9b87e7"/><rect x="499.80" y="958.90" width="8.2" height="90.10" fill="#9b87e7"/><rect x="512.40" y="942.88" width="8.2" height="106.12" fill="#9b87e7"/><rect x="525.00" y="970.57" width="8.2" height="78.43" fill="#9b87e7"/><rect x="537.60" y="954.82" width="8.2" height="94.18" fill="#9b87e7"/><rect x="550.20" y="946.95" width="8.2" height="102.05" fill="#9b87e7"/></svg><div class="t " style="right:448.00px;top:1045.52px;font-size:5.8px;line-height:6.96px;color:#c6c6c6;">0</div><div class="t " style="right:448.00px;top:1018.38px;font-size:5.8px;line-height:6.96px;color:#c6c6c6;">50</div><div class="t " style="right:448.00px;top:991.24px;font-size:5.8px;line-height:6.96px;color:#c6c6c6;">100</div><div class="t " style="right:448.00px;top:964.10px;font-size:5.8px;line-height:6.96px;color:#c6c6c6;">150</div><div class="t " style="right:448.00px;top:936.96px;font-size:5.8px;line-height:6.96px;color:#c6c6c6;">200</div><div class="t " style="right:448.00px;top:909.82px;font-size:5.8px;line-height:6.96px;color:#c6c6c6;">250</div><div class="t " style="left:215.70px;width:400px;text-align:center;top:1052.40px;font-size:5.5px;line-height:6.60px;color:#aaa;letter-spacing:-0.3px">1<i class="k">月</i></div><div class="t " style="left:228.30px;width:400px;text-align:center;top:1052.40px;font-size:5.5px;line-height:6.60px;color:#aaa;letter-spacing:-0.3px">2<i class="k">月</i></div><div class="t " style="left:240.90px;width:400px;text-align:center;top:1052.40px;font-size:5.5px;line-height:6.60px;color:#aaa;letter-spacing:-0.3px">3<i class="k">月</i></div><div class="t " style="left:253.50px;width:400px;text-align:center;top:1052.40px;font-size:5.5px;line-height:6.60px;color:#aaa;letter-spacing:-0.3px">4<i class="k">月</i></div><div class="t " style="left:266.10px;width:400px;text-align:center;top:1052.40px;font-size:5.5px;line-height:6.60px;color:#aaa;letter-spacing:-0.3px">5<i class="k">月</i></div><div class="t " style="left:278.70px;width:400px;text-align:center;top:1052.40px;font-size:5.5px;line-height:6.60px;color:#aaa;letter-spacing:-0.3px">6<i class="k">月</i></div><div class="t " style="left:291.30px;width:400px;text-align:center;top:1052.40px;font-size:5.5px;line-height:6.60px;color:#aaa;letter-spacing:-0.3px">7<i class="k">月</i></div><div class="t " style="left:303.90px;width:400px;text-align:center;top:1052.40px;font-size:5.5px;line-height:6.60px;color:#aaa;letter-spacing:-0.3px">8<i class="k">月</i></div><div class="t " style="left:316.50px;width:400px;text-align:center;top:1052.40px;font-size:5.5px;line-height:6.60px;color:#aaa;letter-spacing:-0.3px">9<i class="k">月</i></div><div class="t " style="left:329.10px;width:400px;text-align:center;top:1052.40px;font-size:5.5px;line-height:6.60px;color:#aaa;letter-spacing:-0.3px">10<i class="k">月</i></div><div class="t " style="left:341.70px;width:400px;text-align:center;top:1052.40px;font-size:5.5px;line-height:6.60px;color:#aaa;letter-spacing:-0.3px">11<i class="k">月</i></div><div class="t " style="left:354.30px;width:400px;text-align:center;top:1052.40px;font-size:5.5px;line-height:6.60px;color:#aaa;letter-spacing:-0.3px">12<i class="k">月</i></div><div style="left:460.00px;top:1080.00px;width:5.80px;height:5.80px;background:#9b87e7"></div><div class="t " style="left:470.80px;top:1078.80px;font-size:7px;line-height:8.40px;color:#777;"><i class="k">月办件数</i></div><div class="t k0" style="left:417.00px;top:1115.30px;font-size:10.5px;line-height:12.60px;color:#333;">2016<i class="k">年度总办件数：</i><span style="position:static;color:#f5333a">5065</span> <i class="k">件</i></div><svg style="left:589px;top:853px" width="206" height="356" viewBox="589 853 206 356"><defs><linearGradient id="tg" x1="0" y1="0" x2="0" y2="1"><stop offset="0" stop-color="#2ec7c9" stop-opacity="0.75"/><stop offset="1" stop-color="#2ec7c9" stop-opacity="0.04"/></linearGradient></defs><line x1="617.2" y1="1047.90" x2="778.5" y2="1047.90" stroke="#f0f0f0" stroke-width="0.7"/><line x1="617.2" y1="1025.47" x2="778.5" y2="1025.47" stroke="#f0f0f0" stroke-width="0.7"/><line x1="617.2" y1="1003.03" x2="778.5" y2="1003.03" stroke="#f0f0f0" stroke-width="0.7"/><line x1="617.2" y1="980.60" x2="778.5" y2="980.60" stroke="#f0f0f0" stroke-width="0.7"/><line x1="617.2" y1="958.17" x2="778.5" y2="958.17" stroke="#f0f0f0" stroke-width="0.7"/><line x1="617.2" y1="935.73" x2="778.5" y2="935.73" stroke="#f0f0f0" stroke-width="0.7"/><line x1="617.2" y1="913.30" x2="778.5" y2="913.30" stroke="#f0f0f0" stroke-width="0.7"/><line x1="617.2" y1="913.3" x2="617.2" y2="1047.9" stroke="#f0f0f0" stroke-width="0.7"/><line x1="778.5" y1="913.3" x2="778.5" y2="1047.9" stroke="#f0f0f0" stroke-width="0.7"/><polygon points="617.2,1047.9 617.20,1002.85 622.58,987.78 627.95,996.30 633.33,972.17 638.71,943.99 644.08,980.33 649.46,990.65 654.84,979.79 660.21,959.15 665.59,971.09 670.97,989.30 676.34,953.77 681.72,986.61 687.10,996.30 692.47,1015.33 697.85,1034.08 703.23,989.57 708.60,976.83 713.98,1024.30 719.36,1014.25 724.73,957.27 730.11,987.15 735.49,996.30 740.86,1026.45 746.24,978.18 751.62,1015.33 756.99,990.38 762.37,990.38 767.75,979.79 773.12,1008.06 778.50,970.55 778.5,1047.9" fill="url(#tg)"/><polyline points="617.20,1002.85 622.58,987.78 627.95,996.30 633.33,972.17 638.71,943.99 644.08,980.33 649.46,990.65 654.84,979.79 660.21,959.15 665.59,971.09 670.97,989.30 676.34,953.77 681.72,986.61 687.10,996.30 692.47,1015.33 697.85,1034.08 703.23,989.57 708.60,976.83 713.98,1024.30 719.36,1014.25 724.73,957.27 730.11,987.15 735.49,996.30 740.86,1026.45 746.24,978.18 751.62,1015.33 756.99,990.38 762.37,990.38 767.75,979.79 773.12,1008.06 778.50,970.55" fill="none" stroke="#2ec7c9" stroke-width="0.9"/><circle cx="617.20" cy="1002.85" r="1.7" fill="#2ec7c9"/><circle cx="622.58" cy="987.78" r="1.7" fill="#2ec7c9"/><circle cx="627.95" cy="996.30" r="1.7" fill="#2ec7c9"/><circle cx="633.33" cy="972.17" r="1.7" fill="#2ec7c9"/><circle cx="638.71" cy="943.99" r="1.7" fill="#2ec7c9"/><circle cx="644.08" cy="980.33" r="1.7" fill="#2ec7c9"/><circle cx="649.46" cy="990.65" r="1.7" fill="#2ec7c9"/><circle cx="654.84" cy="979.79" r="1.7" fill="#2ec7c9"/><circle cx="660.21" cy="959.15" r="1.7" fill="#2ec7c9"/><circle cx="665.59" cy="971.09" r="1.7" fill="#2ec7c9"/><circle cx="670.97" cy="989.30" r="1.7" fill="#2ec7c9"/><circle cx="676.34" cy="953.77" r="1.7" fill="#2ec7c9"/><circle cx="681.72" cy="986.61" r="1.7" fill="#2ec7c9"/><circle cx="687.10" cy="996.30" r="1.7" fill="#2ec7c9"/><circle cx="692.47" cy="1015.33" r="1.7" fill="#2ec7c9"/><circle cx="697.85" cy="1034.08" r="1.7" fill="#2ec7c9"/><circle cx="703.23" cy="989.57" r="1.7" fill="#2ec7c9"/><circle cx="708.60" cy="976.83" r="1.7" fill="#2ec7c9"/><circle cx="713.98" cy="1024.30" r="1.7" fill="#2ec7c9"/><circle cx="719.36" cy="1014.25" r="1.7" fill="#2ec7c9"/><circle cx="724.73" cy="957.27" r="1.7" fill="#2ec7c9"/><circle cx="730.11" cy="987.15" r="1.7" fill="#2ec7c9"/><circle cx="735.49" cy="996.30" r="1.7" fill="#2ec7c9"/><circle cx="740.86" cy="1026.45" r="1.7" fill="#2ec7c9"/><circle cx="746.24" cy="978.18" r="1.7" fill="#2ec7c9"/><circle cx="751.62" cy="1015.33" r="1.7" fill="#2ec7c9"/><circle cx="756.99" cy="990.38" r="1.7" fill="#2ec7c9"/><circle cx="762.37" cy="990.38" r="1.7" fill="#2ec7c9"/><circle cx="767.75" cy="979.79" r="1.7" fill="#2ec7c9"/><circle cx="773.12" cy="1008.06" r="1.7" fill="#2ec7c9"/><circle cx="778.50" cy="970.55" r="1.7" fill="#2ec7c9"/></svg><div class="t " style="right:235.50px;top:1044.54px;font-size:5.6px;line-height:6.72px;color:#c6c6c6;letter-spacing:-0.2px">7.5</div><div class="t " style="right:235.50px;top:1022.11px;font-size:5.6px;line-height:6.72px;color:#c6c6c6;letter-spacing:-0.2px">10</div><div class="t " style="right:235.50px;top:999.67px;font-size:5.6px;line-height:6.72px;color:#c6c6c6;letter-spacing:-0.2px">12.5</div><div class="t " style="right:235.50px;top:977.24px;font-size:5.6px;line-height:6.72px;color:#c6c6c6;letter-spacing:-0.2px">15</div><div class="t " style="right:235.50px;top:954.81px;font-size:5.6px;line-height:6.72px;color:#c6c6c6;letter-spacing:-0.2px">17.5</div><div class="t " style="right:235.50px;top:932.37px;font-size:5.6px;line-height:6.72px;color:#c6c6c6;letter-spacing:-0.2px">20</div><div class="t " style="right:235.50px;top:909.94px;font-size:5.6px;line-height:6.72px;color:#c6c6c6;letter-spacing:-0.2px">22.5</div><div class="t " style="left:417.20px;width:400px;text-align:center;top:1052.40px;font-size:5.5px;line-height:6.60px;color:#aaa;letter-spacing:-0.3px">1<i class="k">号</i></div><div class="t " style="left:433.33px;width:400px;text-align:center;top:1052.40px;font-size:5.5px;line-height:6.60px;color:#aaa;letter-spacing:-0.3px">4<i class="k">号</i></div><div class="t " style="left:449.46px;width:400px;text-align:center;top:1052.40px;font-size:5.5px;line-height:6.60px;color:#aaa;letter-spacing:-0.3px">7<i class="k">号</i></div><div class="t " style="left:465.59px;width:400px;text-align:center;top:1052.40px;font-size:5.5px;line-height:6.60px;color:#aaa;letter-spacing:-0.3px">10<i class="k">号</i></div><div class="t " style="left:481.72px;width:400px;text-align:center;top:1052.40px;font-size:5.5px;line-height:6.60px;color:#aaa;letter-spacing:-0.3px">13<i class="k">号</i></div><div class="t " style="left:497.85px;width:400px;text-align:center;top:1052.40px;font-size:5.5px;line-height:6.60px;color:#aaa;letter-spacing:-0.3px">16<i class="k">号</i></div><div class="t " style="left:513.98px;width:400px;text-align:center;top:1052.40px;font-size:5.5px;line-height:6.60px;color:#aaa;letter-spacing:-0.3px">19<i class="k">号</i></div><div class="t " style="left:530.11px;width:400px;text-align:center;top:1052.40px;font-size:5.5px;line-height:6.60px;color:#aaa;letter-spacing:-0.3px">22<i class="k">号</i></div><div class="t " style="left:546.24px;width:400px;text-align:center;top:1052.40px;font-size:5.5px;line-height:6.60px;color:#aaa;letter-spacing:-0.3px">25<i class="k">号</i></div><div class="t " style="left:562.37px;width:400px;text-align:center;top:1052.40px;font-size:5.5px;line-height:6.60px;color:#aaa;letter-spacing:-0.3px">28<i class="k">号</i></div><div class="t " style="left:578.50px;width:400px;text-align:center;top:1052.40px;font-size:5.5px;line-height:6.60px;color:#aaa;letter-spacing:-0.3px">31<i class="k">号</i></div><svg style="left:671px;top:1080px" width="10" height="6" viewBox="0 0 10 6"><path d="M0 3 H10" stroke="#2ec7c9" stroke-width="1"/><circle cx="5" cy="3" r="2" fill="#2ec7c9"/></svg><div class="t " style="left:683.60px;top:1078.80px;font-size:7px;line-height:8.40px;color:#777;"><i class="k">日办件数</i></div><div class="t k0" style="left:629.60px;top:1115.30px;font-size:10.5px;line-height:12.60px;color:#333;">2016<i class="k">年度总办件数：</i><span style="position:static;color:#f5333a">5065</span> <i class="k">件</i></div><div class="t k0" style="left:629.60px;top:1129.70px;font-size:10.5px;line-height:12.60px;color:#333;">2016<i class="k">年</i>12<i class="k">月完成数：</i><span style="position:static;color:#f5333a">465</span> <i class="k">件</i></div></div></div><div class="scr" style="top:1319px;height:424px;background:#e4ecfb"><div class="stage" style="top:-1319px"><div style="left:143.00px;top:1347.00px;width:659.00px;height:396.00px;background:linear-gradient(180deg,#e6edfb 0%,#e3eafa 100%)"></div><svg style="left:46px;top:1319px" width="756" height="50" viewBox="46 1319 756 50"><defs><radialGradient id="hg" cx="423" cy="1345" r="230" gradientUnits="userSpaceOnUse" gradientTransform="translate(423 1340) scale(1 0.35) translate(-423 -1340)"><stop offset="0" stop-color="#2f3c7a"/><stop offset="0.4" stop-color="#222b5c"/><stop offset="0.75" stop-color="#161b33"/><stop offset="1" stop-color="#131729"/></radialGradient></defs><path d="M46 1319 H802 V1348.5 H533 C530 1348.5 529 1349.5 527 1351.5 L516 1361.5 C514 1363.2 513 1363.6 510 1363.6 H336 C333 1363.6 332 1363.2 330 1361.5 L319 1351.5 C317 1349.5 316 1348.5 313 1348.5 H46 Z" fill="url(#hg)"/><path d="M143 1349.5 H313 C316 1349.5 317 1350.5 319 1352.5 L330 1362.5 C332 1364.2 333 1364.6 336 1364.6 H510 C513 1364.6 514 1364.2 516 1362.5 L527 1352.5 C529 1350.5 530 1349.5 533 1349.5 H802" fill="none" stroke="#bcd2f7" stroke-width="1.6"/></svg><div style="left:143.00px;top:1349.00px;width:3.50px;height:394.00px;background:#d3e0f8"></div><div style="left:46.00px;top:1347.50px;width:97.00px;height:396.00px;background:linear-gradient(180deg,#2b3668 0%,#2b3668 58%,#242b53 58.2%,#1c2142 100%)"></div><div style="left:142.50px;top:1347.50px;width:1.00px;height:396.00px;background:#0e1430"></div><div style="left:46.00px;top:1451.80px;width:97.00px;height:35.00px;background:linear-gradient(90deg,#0a8dff 0%,#1574df 45%,#2b3668 100%)"></div><div style="left:46.00px;top:1486.80px;width:97.00px;height:90.20px;background:#2d3a6c"></div><div style="left:46.00px;top:1516.00px;width:97.00px;height:0.80px;background:#34427a"></div><div style="left:46.00px;top:1546.00px;width:97.00px;height:0.80px;background:#34427a"></div><svg style="left:62.80px;top:1361.00px" width="12" height="12" viewBox="0 0 12 12"><path d="M6 0.8 L10.5 3.4 V8.6 L6 11.2 L1.5 8.6 V3.4 Z" fill="none" stroke="#fff" stroke-width="1.3" stroke-linejoin="round"/><circle cx="6" cy="6" r="1.9" fill="none" stroke="#fff" stroke-width="1.2"/></svg><div class="t " style="left:82.90px;top:1362.80px;font-size:7px;line-height:8.40px;color:#f2f4fa;"><i class="k">系统管理</i></div><svg style="left:62.80px;top:1390.20px" width="12" height="12" viewBox="0 0 12 12"><path d="M6 1 L11 3.6 L6 6.2 L1 3.6 Z" fill="#fff"/><path d="M1 6 L6 8.6 L11 6 M1 8.4 L6 11 L11 8.4" fill="none" stroke="#fff" stroke-width="1.2"/></svg><div class="t " style="left:82.90px;top:1392.00px;font-size:7px;line-height:8.40px;color:#f2f4fa;"><i class="k">基础设置</i></div><svg style="left:118.1px;top:1392.2px" width="6" height="8" viewBox="0 0 6 8"><path d="M1.5 1 L4.5 4 L1.5 7" fill="none" stroke="#e8ecf6" stroke-width="1"/></svg><svg style="left:62.80px;top:1428.40px" width="12" height="12" viewBox="0 0 12 12"><rect x="2" y="1.8" width="8" height="9.6" rx="1.5" fill="none" stroke="#fff" stroke-width="1.2"/><rect x="4" y="0.6" width="4" height="2.2" fill="#fff"/><path d="M4.3 5.5 H7.7 M4.3 7.5 H7.7" stroke="#fff" stroke-width="0.9"/></svg><div class="t " style="left:82.90px;top:1430.20px;font-size:7px;line-height:8.40px;color:#f2f4fa;"><i class="k">配置管理</i></div><svg style="left:118.1px;top:1430.4px" width="6" height="8" viewBox="0 0 6 8"><path d="M1.5 1 L4.5 4 L1.5 7" fill="none" stroke="#e8ecf6" stroke-width="1"/></svg><svg style="left:62.80px;top:1463.50px" width="12" height="12" viewBox="0 0 12 12"><path d="M6.3 1.2 A4.9 4.9 0 1 0 10.9 7.6 L6.3 5.6 Z" fill="none" stroke="#fff" stroke-width="1.3" stroke-linejoin="round"/></svg><div class="t " style="left:82.90px;top:1465.30px;font-size:7px;line-height:8.40px;color:#fff;"><i class="k">数据看板</i></div><svg style="left:118.1px;top:1465.5px" width="6" height="8" viewBox="0 0 6 8"><path d="M1.5 1 L4.5 4 L1.5 7" fill="none" stroke="#e8ecf6" stroke-width="1"/></svg><svg style="left:74px;top:1500px" width="5" height="6" viewBox="0 0 5 6"><path d="M0.5 0.5 L4.5 3 L0.5 5.5 Z" fill="#fff"/></svg><div class="t " style="left:82.90px;top:1499.12px;font-size:6.8px;line-height:8.16px;color:#fff;font-weight:bold"><i class="k">实时数据看板</i></div><div class="t " style="left:82.20px;top:1527.14px;font-size:6.6px;line-height:7.92px;color:#c9d0e6;"><i class="k">设备在线看板</i></div><div class="t " style="left:82.20px;top:1556.84px;font-size:6.6px;line-height:7.92px;color:#c9d0e6;"><i class="k">归档数据看板</i></div><div style="left:144.50px;top:1561.00px;width:3.00px;height:22.00px;background:#c6d4ef;border-radius:1px"></div><svg style="left:63.50px;top:1328.90px" width="12" height="12" viewBox="0 0 12 12"><path d="M1.2 6 L6 1.5 L10.8 6 M2.5 5 V10.5 H4.8 V7.5 H7.2 V10.5 H9.5 V5" fill="none" stroke="#fff" stroke-width="1.1" stroke-linejoin="round"/></svg><div class="t " style="left:79.00px;top:1330.92px;font-size:6.8px;line-height:8.16px;color:#aab2cc;"><i class="k">回到首页</i></div><svg style="left:396px;top:1327px" width="54" height="6" viewBox="0 0 54 6"><path d="M6 5.5 Q27 -1.5 48 5.5" fill="none" stroke="#c8cfe6" stroke-width="0.7"/></svg><div class="t " style="left:223.00px;width:400px;text-align:center;top:1329.58px;font-size:11.2px;line-height:13.44px;color:#fff;letter-spacing:-0.2px">BlueAmber</div><div class="t " style="left:223.50px;width:400px;text-align:center;top:1343.64px;font-size:8.6px;line-height:10.32px;color:#fff;font-weight:bold"><i class="k">苏州蓝珀医疗科技股份有限公司</i></div><div style="left:404.30px;top:1358.60px;width:38.30px;height:10.10px;background:#1a8cff;border-radius:5px"></div><div class="t " style="left:223.50px;width:400px;text-align:center;top:1360.10px;font-size:6px;line-height:7.20px;color:#fff;"><i class="k">版本</i> 1.1.1</div><svg style="left:638.60px;top:1329.50px" width="12" height="12" viewBox="0 0 12 12"><path d="M6 1.2 C3.4 1.2 2.6 3.2 2.6 5.4 V8 L1.4 9.4 H10.6 L9.4 8 V5.4 C9.4 3.2 8.6 1.2 6 1.2 Z" fill="none" stroke="#fff" stroke-width="1.2"/><path d="M4.8 10.4 Q6 11.8 7.2 10.4" fill="none" stroke="#fff" stroke-width="1"/></svg><svg style="left:647.8px;top:1326.5px" width="7" height="7" viewBox="0 0 7 7"><circle cx="3.5" cy="3.5" r="3.2" fill="#f5333a"/></svg><div class="t " style="left:451.30px;width:400px;text-align:center;top:1327.30px;font-size:4.5px;line-height:5.40px;color:#fff;">3</div><div class="t " style="left:655.00px;top:1331.60px;font-size:6.5px;line-height:7.80px;color:#c6cbe0;"><i class="k">报警信息</i></div><div style="left:683.70px;top:1331.00px;width:0.80px;height:9.00px;background:#3b4262"></div><svg style="left:689.30px;top:1329.50px" width="12" height="12" viewBox="0 0 12 12"><circle cx="6" cy="6" r="5.3" fill="none" stroke="#fff" stroke-width="1.2"/><circle cx="6" cy="4.7" r="1.9" fill="#fff"/><path d="M2.8 9.5 Q3.5 7.3 6 7.3 Q8.5 7.3 9.2 9.5 Q6 11.5 2.8 9.5 Z" fill="#fff"/></svg><div class="t " style="left:703.50px;top:1331.60px;font-size:6.5px;line-height:7.80px;color:#c6cbe0;"><i class="k">管理员：朱大志</i></div><div style="left:749.80px;top:1331.00px;width:0.80px;height:9.00px;background:#3b4262"></div><svg style="left:755.00px;top:1329.50px" width="12" height="12" viewBox="0 0 12 12"><path d="M7 2 H2 V10 H7" fill="none" stroke="#fff" stroke-width="1.2"/><path d="M5 6 H10.8 M8.5 3.7 L10.8 6 L8.5 8.3" fill="none" stroke="#fff" stroke-width="1.2"/></svg><div class="t " style="left:770.00px;top:1331.60px;font-size:6.5px;line-height:7.80px;color:#c6cbe0;"><i class="k">退出</i></div><div style="left:150.70px;top:1374.00px;width:252.80px;height:80.00px;background:#fff;border-radius:3px"></div><div style="left:410.50px;top:1374.00px;width:252.60px;height:80.00px;background:#fff;border-radius:3px"></div><div style="left:670.60px;top:1374.00px;width:123.10px;height:80.00px;background:#fff;border-radius:3px"></div><div class="t " style="left:166.60px;top:1385.30px;font-size:7px;line-height:8.40px;color:#283262;font-weight:bold"><i class="k">设备总数</i></div><div style="left:199.00px;top:1384.70px;width:30.40px;height:9.60px;background:#eef3fc;border-radius:5px"></div><div class="t " style="left:14.20px;width:400px;text-align:center;top:1385.90px;font-size:6px;line-height:7.20px;color:#9098b4;"><i class="k">共</i>12<i class="k">台</i></div><div class="t " style="left:425.80px;top:1384.80px;font-size:7px;line-height:8.40px;color:#283262;font-weight:bold"><i class="k">病人总数</i></div><div style="left:457.00px;top:1384.20px;width:30.80px;height:9.60px;background:#eef3fc;border-radius:5px"></div><div class="t " style="left:272.40px;width:400px;text-align:center;top:1385.40px;font-size:6px;line-height:7.20px;color:#9098b4;"><i class="k">共</i>5<i class="k">人</i></div><div class="t " style="left:685.00px;top:1384.60px;font-size:7px;line-height:8.40px;color:#283262;font-weight:bold"><i class="k">异常状态</i></div><div style="left:718.00px;top:1384.00px;width:30.00px;height:9.60px;background:#eef3fc;border-radius:5px"></div><div class="t " style="left:533.00px;width:400px;text-align:center;top:1385.20px;font-size:6px;line-height:7.20px;color:#9098b4;"><i class="k">共</i>1<i class="k">人</i></div><div class="t " style="left:224.60px;top:1410.00px;font-size:12.5px;line-height:15.00px;color:#3d4a82;font-weight:bold">5</div><div class="t " style="left:224.60px;top:1425.42px;font-size:6.3px;line-height:7.56px;color:#8a92ae;"><i class="k">在线设备</i>(<i class="k">台</i>)</div><div class="t " style="left:334.40px;top:1410.00px;font-size:12.5px;line-height:15.00px;color:#3d4a82;font-weight:bold">7</div><div class="t " style="left:334.40px;top:1425.42px;font-size:6.3px;line-height:7.56px;color:#8a92ae;"><i class="k">离线设备</i>(<i class="k">台</i>)</div><div class="t " style="left:485.30px;top:1410.00px;font-size:12.5px;line-height:15.00px;color:#3d4a82;font-weight:bold">3</div><div class="t " style="left:485.30px;top:1425.42px;font-size:6.3px;line-height:7.56px;color:#8a92ae;"><i class="k">在床病人</i>(<i class="k">人</i>)</div><div class="t " style="left:596.60px;top:1410.00px;font-size:12.5px;line-height:15.00px;color:#3d4a82;font-weight:bold">2</div><div class="t " style="left:596.60px;top:1425.42px;font-size:6.3px;line-height:7.56px;color:#8a92ae;"><i class="k">离床病人</i>(<i class="k">人</i>)</div><div class="t " style="left:733.60px;top:1410.00px;font-size:12.5px;line-height:15.00px;color:#3d4a82;font-weight:bold">1</div><div class="t " style="left:733.60px;top:1425.42px;font-size:6.3px;line-height:7.56px;color:#8a92ae;"><i class="k">异常报警</i>(<i class="k">人</i>)</div><svg style="left:165px;top:1400px" width="60" height="45" viewBox="0 0 60 45"><path d="M30 15.5 L55 29 L30 43 L5 29 Z" fill="none" stroke="#dcc2ec" stroke-width="0.7" stroke-linejoin="round"/><path d="M30 19 L49.5 29 L30 39.5 L10.5 29 Z" fill="none" stroke="#bfeaf2" stroke-width="0.7" stroke-linejoin="round"/><path d="M30 26 L44 33 L30 40 L16 33 Z" fill="#aeb3c6"/><path d="M15.5 21 V24.5 L30 32.5 L44.5 24.5 V21 L30 29 Z" fill="#1a45ae" stroke="#1a45ae" stroke-width="0.8" stroke-linejoin="round"/><path d="M30 13 L44.5 21 L30 29 L15.5 21 Z" fill="#2c72d8" stroke="#2c72d8" stroke-width="0.8" stroke-linejoin="round"/><path d="M15.5 17.5 V21.0 L30 29.0 L44.5 21.0 V17.5 L30 25.5 Z" fill="#1a45ae" stroke="#1a45ae" stroke-width="0.8" stroke-linejoin="round"/><path d="M30 9.5 L44.5 17.5 L30 25.5 L15.5 17.5 Z" fill="#2c72d8" stroke="#2c72d8" stroke-width="0.8" stroke-linejoin="round"/><path d="M15.5 14 V17.5 L30 25.5 L44.5 17.5 V14 L30 22 Z" fill="#1a45ae" stroke="#1a45ae" stroke-width="0.8" stroke-linejoin="round"/><path d="M30 6 L44.5 14 L30 22 L15.5 14 Z" fill="#2c72d8" stroke="#2c72d8" stroke-width="0.8" stroke-linejoin="round"/><path d="M30 6.6 L43 14 L30 21.4 L17 14 Z" fill="#3f8fe8"/><path d="M30 9.3 L38.5 14 L30 18.7 L21.5 14 Z" fill="#78d4ea"/></svg><svg style="left:275px;top:1400px" width="60" height="45" viewBox="0 0 60 45"><path d="M30 15.5 L55 29 L30 43 L5 29 Z" fill="none" stroke="#dcc2ec" stroke-width="0.7" stroke-linejoin="round"/><path d="M30 19 L49.5 29 L30 39.5 L10.5 29 Z" fill="none" stroke="#f5d6c8" stroke-width="0.7" stroke-linejoin="round"/><path d="M30 26 L44 33 L30 40 L16 33 Z" fill="#aeb3c6"/><path d="M15.5 21 V24.5 L30 32.5 L44.5 24.5 V21 L30 29 Z" fill="#e8ac10" stroke="#e8ac10" stroke-width="0.8" stroke-linejoin="round"/><path d="M30 13 L44.5 21 L30 29 L15.5 21 Z" fill="#f7cc22" stroke="#f7cc22" stroke-width="0.8" stroke-linejoin="round"/><path d="M15.5 17.5 V21.0 L30 29.0 L44.5 21.0 V17.5 L30 25.5 Z" fill="#e8ac10" stroke="#e8ac10" stroke-width="0.8" stroke-linejoin="round"/><path d="M30 9.5 L44.5 17.5 L30 25.5 L15.5 17.5 Z" fill="#f7cc22" stroke="#f7cc22" stroke-width="0.8" stroke-linejoin="round"/><path d="M15.5 14 V17.5 L30 25.5 L44.5 17.5 V14 L30 22 Z" fill="#e8ac10" stroke="#e8ac10" stroke-width="0.8" stroke-linejoin="round"/><path d="M30 6 L44.5 14 L30 22 L15.5 14 Z" fill="#f7cc22" stroke="#f7cc22" stroke-width="0.8" stroke-linejoin="round"/><path d="M30 6.6 L43 14 L30 21.4 L17 14 Z" fill="#f9d52e"/><path d="M30 9.3 L38.5 14 L30 18.7 L21.5 14 Z" fill="#f0b13c"/></svg><svg style="left:424.0px;top:1401.8px" width="60" height="45" viewBox="0 0 60 45"><defs><linearGradient id="bb5646" x1="0" y1="0" x2="1" y2="1"><stop offset="0" stop-color="#2f74d6"/><stop offset="1" stop-color="#1b4fae"/></linearGradient></defs><path d="M6 22.5 L21 14 L55 34 L40 42.5 Z" fill="#c8cce8" stroke="#c8cce8" stroke-width="1.5" stroke-linejoin="round"/><path d="M6 17 L40 37 L55 28.5 L55 26.5 L40 35 L6 15 Z" fill="#dfe6fb"/><path d="M6 15 L21 6.5 L55 26.5 L40 35 Z" fill="url(#bb5646)" stroke="#2a66c8" stroke-width="1.6" stroke-linejoin="round"/><path d="M19.51 8.14 L26.15 12.04 L17.45 16.97 L10.81 13.07 Z" fill="#fff"/><path d="M23.82 11.37 L35.89 18.47 L26.66 23.70 L14.60 16.60 Z" fill="#9fb8ea"/><path d="M35.02 18.96 L47.52 26.32 L43.86 28.39 L31.36 21.03 Z" fill="#8199da"/><path d="M31.02 21.23 L43.51 28.58 L39.86 30.65 L27.36 23.30 Z" fill="#8199da"/><path d="M47.43 25.86 L50.45 27.64 L46.80 29.71 L43.78 27.94 Z" fill="#fff"/><path d="M42.91 28.43 L45.93 30.20 L42.27 32.27 L39.26 30.50 Z" fill="#fff"/><circle cx="18.10" cy="11.33" r="2.7" fill="#1d1d1d"/><circle cx="18.27" cy="12.23" r="1.6" fill="#f5c6ae"/><circle cx="34.52" cy="16.26" r="1.1" fill="#f0b070"/><circle cx="23.38" cy="22.57" r="1.1" fill="#f0b070"/></svg><svg style="left:533px;top:1399px" width="60" height="45" viewBox="0 0 60 45"><defs><linearGradient id="yb6729" x1="0" y1="0" x2="1" y2="1"><stop offset="0" stop-color="#f9e63c"/><stop offset="1" stop-color="#f4b21c"/></linearGradient></defs><path d="M8.5 25 L23 16.5 L57 37 L42 45 Z" fill="#c9cde8" stroke="#c9cde8" stroke-width="1.5" stroke-linejoin="round"/><path d="M8.5 17 L23 8.5 L57 29 L42 37 Z" fill="url(#yb6729)" stroke="#f5c222" stroke-width="1.5" stroke-linejoin="round"/><path d="M33 14.5 L35 27.5 L44 27.5 L42 17.5 L50 21 L44 14 Z" fill="#fff"/><path d="M41.5 17.5 L51 21 L45 30 Z" fill="#d9a640"/><circle cx="40.5" cy="7" r="3.3" fill="#e09a12"/><path d="M39.5 9.5 L40.5 13.5" stroke="#e09a12" stroke-width="1.6"/><path d="M52 19 L53.5 20.5 M55 20 L56.5 21.5" stroke="#6a7a20" stroke-width="1.5"/></svg><svg style="left:677.5px;top:1400px" width="60" height="45" viewBox="0 0 60 45"><path d="M10.8 29.2 L30 18 L50 29 L30 41 Z" fill="#ef6a70"/><path d="M22 5.5 L32 5 L40 11 V22 Q40 30 30.5 33 Q21 30 21 22 V7 Z" fill="#f4a5a8"/><path d="M20.5 6 L30 5.5 V32.5 Q20.5 29.5 20.5 22 Z" fill="#ee5a60"/><path d="M30 5.5 L38 10.5 V22 Q38 29.5 30 32.5 Z" fill="#f2888c"/><path d="M23 8.5 L30 8 V29 Q23 27 23 21 Z" fill="#fff"/><rect x="26.3" y="12.5" width="2.6" height="8" fill="#f01c24"/><rect x="26.3" y="22" width="2.6" height="2.6" fill="#f01c24"/></svg><div style="left:151.00px;top:1461.00px;width:644.00px;height:290.00px;background:#fff;border-radius:3px"></div><svg style="left:161.5px;top:1472.3px" width="4.4" height="4.4" viewBox="0 0 4.4 4.4"><circle cx="2.2" cy="2.2" r="2.1" fill="#1e88f0"/></svg><div class="t " style="left:169.00px;top:1471.42px;font-size:6.3px;line-height:7.56px;color:#7a7f95;"><i class="k">在床</i> (3<i class="k">人</i>)</div><svg style="left:214.0px;top:1472.3px" width="4.4" height="4.4" viewBox="0 0 4.4 4.4"><circle cx="2.2" cy="2.2" r="2.1" fill="#f5a623"/></svg><div class="t " style="left:222.80px;top:1471.42px;font-size:6.3px;line-height:7.56px;color:#7a7f95;"><i class="k">离床</i> (2<i class="k">人</i>)</div><svg style="left:268.1px;top:1472.3px" width="4.4" height="4.4" viewBox="0 0 4.4 4.4"><circle cx="2.2" cy="2.2" r="2.1" fill="#f0464f"/></svg><div class="t " style="left:277.30px;top:1471.42px;font-size:6.3px;line-height:7.56px;color:#7a7f95;"><i class="k">异常报警</i> (1<i class="k">人</i>)</div><div style="left:649.00px;top:1468.80px;width:48.20px;height:13.90px;border:1px solid #3a86e6;border-radius:7px;background:#fff"></div><svg style="left:655.00px;top:1470.80px" width="12" height="10" viewBox="0 0 12 10"><path d="M1 4.2 H11 M2.5 6.8 H9.5 M4.5 2.2 H7.5" stroke="#2f7fe6" stroke-width="1.2"/></svg><div class="t " style="left:668.00px;top:1472.42px;font-size:6.3px;line-height:7.56px;color:#2f7fe6;font-weight:bold"><i class="k">翻身设置</i></div><div style="left:700.30px;top:1468.80px;width:62.90px;height:13.90px;border:1px solid #dfe6f3;border-radius:7px;background:#fff"></div><div class="t " style="left:708.00px;top:1472.72px;font-size:5.8px;line-height:6.96px;color:#b0b6c8;"><i class="k">患者姓名</i>/<i class="k">病床</i></div><div style="left:766.30px;top:1468.80px;width:20.60px;height:13.90px;border:1px solid #dfe6f3;border-radius:7px;background:#fff"></div><svg style="left:771.60px;top:1470.80px" width="10" height="10" viewBox="0 0 10 10"><circle cx="4.8" cy="4.8" r="3.4" fill="none" stroke="#8a93ad" stroke-width="0.9"/><path d="M7.3 7.3 L9.5 9.5" stroke="#8a93ad" stroke-width="0.9"/></svg><div style="left:158.00px;top:1488.00px;width:153.50px;height:120.00px;border:1px solid #e4eefa;border-radius:3px;background:#fff"></div><div class="t " style="left:169.40px;top:1503.72px;font-size:6.3px;line-height:7.56px;color:#6c7292;"><i class="k">患者</i>: <i class="k">小宝</i></div><div class="t " style="left:214.20px;top:1503.72px;font-size:6.3px;line-height:7.56px;color:#6c7292;"><i class="k">病床</i>: 01-16</div><div class="t " style="left:169.40px;top:1515.30px;font-size:8px;line-height:9.60px;color:#1e88f0;font-weight:bold"><i class="k">状态：在床</i></div><svg style="left:249.5px;top:1490.8px" width="60" height="45" viewBox="0 0 60 45"><defs><linearGradient id="bb3990" x1="0" y1="0" x2="1" y2="1"><stop offset="0" stop-color="#2f74d6"/><stop offset="1" stop-color="#1b4fae"/></linearGradient></defs><path d="M6 22.5 L21 14 L55 34 L40 42.5 Z" fill="#c8cce8" stroke="#c8cce8" stroke-width="1.5" stroke-linejoin="round"/><path d="M6 17 L40 37 L55 28.5 L55 26.5 L40 35 L6 15 Z" fill="#dfe6fb"/><path d="M6 15 L21 6.5 L55 26.5 L40 35 Z" fill="url(#bb3990)" stroke="#2a66c8" stroke-width="1.6" stroke-linejoin="round"/><path d="M19.51 8.14 L26.15 12.04 L17.45 16.97 L10.81 13.07 Z" fill="#fff"/><path d="M23.82 11.37 L35.89 18.47 L26.66 23.70 L14.60 16.60 Z" fill="#9fb8ea"/><path d="M35.02 18.96 L47.52 26.32 L43.86 28.39 L31.36 21.03 Z" fill="#8199da"/><path d="M31.02 21.23 L43.51 28.58 L39.86 30.65 L27.36 23.30 Z" fill="#8199da"/><path d="M47.43 25.86 L50.45 27.64 L46.80 29.71 L43.78 27.94 Z" fill="#fff"/><path d="M42.91 28.43 L45.93 30.20 L42.27 32.27 L39.26 30.50 Z" fill="#fff"/><circle cx="18.10" cy="11.33" r="2.7" fill="#1d1d1d"/><circle cx="18.27" cy="12.23" r="1.6" fill="#f5c6ae"/><circle cx="34.52" cy="16.26" r="1.1" fill="#f0b070"/><circle cx="23.38" cy="22.57" r="1.1" fill="#f0b070"/></svg><div style="left:166.20px;top:1535.60px;width:138.00px;height:0.80px;background:#edf1f8"></div><div class="t " style="left:173.10px;top:1543.10px;font-size:10.5px;line-height:12.60px;color:#5a689c;font-weight:bold">48</div><div class="t " style="left:173.10px;top:1558.82px;font-size:6.3px;line-height:7.56px;color:#8a90b0;"><i class="k">呼吸</i>(<i class="k">次</i>/<i class="k">分</i>)</div><div class="t " style="left:232.60px;top:1543.10px;font-size:10.5px;line-height:12.60px;color:#5a689c;font-weight:bold">48</div><div class="t " style="left:232.60px;top:1558.82px;font-size:6.3px;line-height:7.56px;color:#8a90b0;"><i class="k">心率</i>(<i class="k">次</i>/<i class="k">分</i>)</div><div class="t " style="left:173.10px;top:1576.60px;font-size:10.5px;line-height:12.60px;color:#56649a;font-weight:bold">3</div><div class="t " style="left:173.10px;top:1590.42px;font-size:6.3px;line-height:7.56px;color:#8a90b0;"><i class="k">体动的强度</i></div><div class="t " style="left:232.60px;top:1576.60px;font-size:10.5px;line-height:12.60px;color:#56649a;font-weight:bold">5</div><div class="t " style="left:231.60px;top:1590.42px;font-size:6.3px;line-height:7.56px;color:#8a90b0;"><i class="k">睡眠呼吸暂停的持续时间</i></div><div style="left:317.00px;top:1488.00px;width:153.50px;height:120.00px;border:1px solid #e4eefa;border-radius:3px;background:#fff"></div><div class="t " style="left:328.40px;top:1503.72px;font-size:6.3px;line-height:7.56px;color:#6c7292;"><i class="k">患者</i>: <i class="k">小白</i></div><div class="t " style="left:373.20px;top:1503.72px;font-size:6.3px;line-height:7.56px;color:#6c7292;"><i class="k">病床</i>: 01-17</div><div class="t " style="left:328.40px;top:1515.30px;font-size:8px;line-height:9.60px;color:#f5a20a;font-weight:bold"><i class="k">状态：离床</i></div><svg style="left:405px;top:1488px" width="60" height="45" viewBox="0 0 60 45"><defs><linearGradient id="yb5538" x1="0" y1="0" x2="1" y2="1"><stop offset="0" stop-color="#f9e63c"/><stop offset="1" stop-color="#f4b21c"/></linearGradient></defs><path d="M8.5 25 L23 16.5 L57 37 L42 45 Z" fill="#c9cde8" stroke="#c9cde8" stroke-width="1.5" stroke-linejoin="round"/><path d="M8.5 17 L23 8.5 L57 29 L42 37 Z" fill="url(#yb5538)" stroke="#f5c222" stroke-width="1.5" stroke-linejoin="round"/><path d="M33 14.5 L35 27.5 L44 27.5 L42 17.5 L50 21 L44 14 Z" fill="#fff"/><path d="M41.5 17.5 L51 21 L45 30 Z" fill="#d9a640"/><circle cx="40.5" cy="7" r="3.3" fill="#e09a12"/><path d="M39.5 9.5 L40.5 13.5" stroke="#e09a12" stroke-width="1.6"/><path d="M52 19 L53.5 20.5 M55 20 L56.5 21.5" stroke="#6a7a20" stroke-width="1.5"/></svg><div style="left:325.20px;top:1535.60px;width:138.00px;height:0.80px;background:#edf1f8"></div><div class="t " style="left:332.10px;top:1543.10px;font-size:10.5px;line-height:12.60px;color:#5a689c;font-weight:bold">48</div><div class="t " style="left:332.10px;top:1558.82px;font-size:6.3px;line-height:7.56px;color:#8a90b0;"><i class="k">呼吸</i>(<i class="k">次</i>/<i class="k">分</i>)</div><div class="t " style="left:391.60px;top:1543.10px;font-size:10.5px;line-height:12.60px;color:#5a689c;font-weight:bold">48</div><div class="t " style="left:391.60px;top:1558.82px;font-size:6.3px;line-height:7.56px;color:#8a90b0;"><i class="k">心率</i>(<i class="k">次</i>/<i class="k">分</i>)</div><div class="t " style="left:332.10px;top:1576.60px;font-size:10.5px;line-height:12.60px;color:#56649a;font-weight:bold">20</div><div class="t " style="left:332.10px;top:1590.42px;font-size:6.3px;line-height:7.56px;color:#8a90b0;"><i class="k">体动的强度</i></div><div class="t " style="left:391.60px;top:1576.60px;font-size:10.5px;line-height:12.60px;color:#56649a;font-weight:bold">5</div><div class="t " style="left:390.60px;top:1590.42px;font-size:6.3px;line-height:7.56px;color:#8a90b0;"><i class="k">睡眠呼吸暂停的持续时间</i></div><div style="left:475.50px;top:1488.00px;width:153.50px;height:120.00px;border:1px solid #e4eefa;border-radius:3px;background:#fff"></div><div class="t " style="left:486.90px;top:1503.72px;font-size:6.3px;line-height:7.56px;color:#6c7292;"><i class="k">患者</i>: <i class="k">小孜</i></div><div class="t " style="left:531.70px;top:1503.72px;font-size:6.3px;line-height:7.56px;color:#6c7292;"><i class="k">病床</i>: 01-18</div><div class="t " style="left:486.90px;top:1515.30px;font-size:8px;line-height:9.60px;color:#f23a44;font-weight:bold"><i class="k">状态：异常报警</i></div><svg style="left:570.0px;top:1490px" width="60" height="45" viewBox="0 0 60 45"><path d="M10.8 29.2 L30 18 L50 29 L30 41 Z" fill="#ef6a70"/><path d="M22 5.5 L32 5 L40 11 V22 Q40 30 30.5 33 Q21 30 21 22 V7 Z" fill="#f4a5a8"/><path d="M20.5 6 L30 5.5 V32.5 Q20.5 29.5 20.5 22 Z" fill="#ee5a60"/><path d="M30 5.5 L38 10.5 V22 Q38 29.5 30 32.5 Z" fill="#f2888c"/><path d="M23 8.5 L30 8 V29 Q23 27 23 21 Z" fill="#fff"/><rect x="26.3" y="12.5" width="2.6" height="8" fill="#f01c24"/><rect x="26.3" y="22" width="2.6" height="2.6" fill="#f01c24"/></svg><div style="left:483.70px;top:1535.60px;width:138.00px;height:0.80px;background:#edf1f8"></div><div class="t " style="left:490.60px;top:1543.10px;font-size:10.5px;line-height:12.60px;color:#5a689c;font-weight:bold">48</div><div class="t " style="left:490.60px;top:1558.82px;font-size:6.3px;line-height:7.56px;color:#8a90b0;"><i class="k">呼吸</i>(<i class="k">次</i>/<i class="k">分</i>)</div><div class="t " style="left:550.10px;top:1543.10px;font-size:10.5px;line-height:12.60px;color:#5a689c;font-weight:bold">48</div><div class="t " style="left:550.10px;top:1558.82px;font-size:6.3px;line-height:7.56px;color:#8a90b0;"><i class="k">心率</i>(<i class="k">次</i>/<i class="k">分</i>)</div><div class="t " style="left:490.60px;top:1576.60px;font-size:10.5px;line-height:12.60px;color:#56649a;font-weight:bold">20</div><div class="t " style="left:490.60px;top:1590.42px;font-size:6.3px;line-height:7.56px;color:#8a90b0;"><i class="k">体动的强度</i></div><div class="t " style="left:550.10px;top:1576.60px;font-size:10.5px;line-height:12.60px;color:#f23a44;font-weight:bold">2</div><div class="t " style="left:549.10px;top:1590.42px;font-size:6.3px;line-height:7.56px;color:#f23a44;"><i class="k">睡眠呼吸暂停的持续时间</i></div><div style="left:634.00px;top:1488.00px;width:153.50px;height:120.00px;border:1px solid #e4eefa;border-radius:3px;background:#fff"></div><div class="t " style="left:645.40px;top:1503.72px;font-size:6.3px;line-height:7.56px;color:#6c7292;"><i class="k">患者</i>: <i class="k">小宝</i></div><div class="t " style="left:690.20px;top:1503.72px;font-size:6.3px;line-height:7.56px;color:#6c7292;"><i class="k">病床</i>: 01-16</div><div class="t " style="left:645.40px;top:1515.30px;font-size:8px;line-height:9.60px;color:#1e88f0;font-weight:bold"><i class="k">状态：在床</i></div><svg style="left:725.5px;top:1490.8px" width="60" height="45" viewBox="0 0 60 45"><defs><linearGradient id="bb8750" x1="0" y1="0" x2="1" y2="1"><stop offset="0" stop-color="#2f74d6"/><stop offset="1" stop-color="#1b4fae"/></linearGradient></defs><path d="M6 22.5 L21 14 L55 34 L40 42.5 Z" fill="#c8cce8" stroke="#c8cce8" stroke-width="1.5" stroke-linejoin="round"/><path d="M6 17 L40 37 L55 28.5 L55 26.5 L40 35 L6 15 Z" fill="#dfe6fb"/><path d="M6 15 L21 6.5 L55 26.5 L40 35 Z" fill="url(#bb8750)" stroke="#2a66c8" stroke-width="1.6" stroke-linejoin="round"/><path d="M19.51 8.14 L26.15 12.04 L17.45 16.97 L10.81 13.07 Z" fill="#fff"/><path d="M23.82 11.37 L35.89 18.47 L26.66 23.70 L14.60 16.60 Z" fill="#9fb8ea"/><path d="M35.02 18.96 L47.52 26.32 L43.86 28.39 L31.36 21.03 Z" fill="#8199da"/><path d="M31.02 21.23 L43.51 28.58 L39.86 30.65 L27.36 23.30 Z" fill="#8199da"/><path d="M47.43 25.86 L50.45 27.64 L46.80 29.71 L43.78 27.94 Z" fill="#fff"/><path d="M42.91 28.43 L45.93 30.20 L42.27 32.27 L39.26 30.50 Z" fill="#fff"/><circle cx="18.10" cy="11.33" r="2.7" fill="#1d1d1d"/><circle cx="18.27" cy="12.23" r="1.6" fill="#f5c6ae"/><circle cx="34.52" cy="16.26" r="1.1" fill="#f0b070"/><circle cx="23.38" cy="22.57" r="1.1" fill="#f0b070"/></svg><div style="left:642.20px;top:1535.60px;width:138.00px;height:0.80px;background:#edf1f8"></div><div class="t " style="left:649.10px;top:1543.10px;font-size:10.5px;line-height:12.60px;color:#5a689c;font-weight:bold">48</div><div class="t " style="left:649.10px;top:1558.82px;font-size:6.3px;line-height:7.56px;color:#8a90b0;"><i class="k">呼吸</i>(<i class="k">次</i>/<i class="k">分</i>)</div><div class="t " style="left:708.60px;top:1543.10px;font-size:10.5px;line-height:12.60px;color:#5a689c;font-weight:bold">48</div><div class="t " style="left:708.60px;top:1558.82px;font-size:6.3px;line-height:7.56px;color:#8a90b0;"><i class="k">心率</i>(<i class="k">次</i>/<i class="k">分</i>)</div><div class="t " style="left:649.10px;top:1576.60px;font-size:10.5px;line-height:12.60px;color:#56649a;font-weight:bold">20</div><div class="t " style="left:649.10px;top:1590.42px;font-size:6.3px;line-height:7.56px;color:#8a90b0;"><i class="k">体动的强度</i></div><div class="t " style="left:708.60px;top:1576.60px;font-size:10.5px;line-height:12.60px;color:#56649a;font-weight:bold">5</div><div class="t " style="left:707.60px;top:1590.42px;font-size:6.3px;line-height:7.56px;color:#8a90b0;"><i class="k">睡眠呼吸暂停的持续时间</i></div><div style="left:158.00px;top:1614.00px;width:153.50px;height:120.00px;border:1px solid #e4eefa;border-radius:3px;background:#fff"></div><div class="t " style="left:169.40px;top:1629.72px;font-size:6.3px;line-height:7.56px;color:#6c7292;"><i class="k">患者</i>: <i class="k">小白</i></div><div class="t " style="left:214.20px;top:1629.72px;font-size:6.3px;line-height:7.56px;color:#6c7292;"><i class="k">病床</i>: 01-17</div><div class="t " style="left:169.40px;top:1641.30px;font-size:8px;line-height:9.60px;color:#f5a20a;font-weight:bold"><i class="k">状态：离床</i></div><svg style="left:246px;top:1614px" width="60" height="45" viewBox="0 0 60 45"><defs><linearGradient id="yb4074" x1="0" y1="0" x2="1" y2="1"><stop offset="0" stop-color="#f9e63c"/><stop offset="1" stop-color="#f4b21c"/></linearGradient></defs><path d="M8.5 25 L23 16.5 L57 37 L42 45 Z" fill="#c9cde8" stroke="#c9cde8" stroke-width="1.5" stroke-linejoin="round"/><path d="M8.5 17 L23 8.5 L57 29 L42 37 Z" fill="url(#yb4074)" stroke="#f5c222" stroke-width="1.5" stroke-linejoin="round"/><path d="M33 14.5 L35 27.5 L44 27.5 L42 17.5 L50 21 L44 14 Z" fill="#fff"/><path d="M41.5 17.5 L51 21 L45 30 Z" fill="#d9a640"/><circle cx="40.5" cy="7" r="3.3" fill="#e09a12"/><path d="M39.5 9.5 L40.5 13.5" stroke="#e09a12" stroke-width="1.6"/><path d="M52 19 L53.5 20.5 M55 20 L56.5 21.5" stroke="#6a7a20" stroke-width="1.5"/></svg><div style="left:166.20px;top:1661.60px;width:138.00px;height:0.80px;background:#edf1f8"></div><div class="t " style="left:173.10px;top:1669.10px;font-size:10.5px;line-height:12.60px;color:#5a689c;font-weight:bold">48</div><div class="t " style="left:173.10px;top:1684.82px;font-size:6.3px;line-height:7.56px;color:#8a90b0;"><i class="k">呼吸</i>(<i class="k">次</i>/<i class="k">分</i>)</div><div class="t " style="left:232.60px;top:1669.10px;font-size:10.5px;line-height:12.60px;color:#5a689c;font-weight:bold">48</div><div class="t " style="left:232.60px;top:1684.82px;font-size:6.3px;line-height:7.56px;color:#8a90b0;"><i class="k">心率</i>(<i class="k">次</i>/<i class="k">分</i>)</div><div class="t " style="left:173.10px;top:1702.60px;font-size:10.5px;line-height:12.60px;color:#56649a;font-weight:bold">20</div><div class="t " style="left:173.10px;top:1716.42px;font-size:6.3px;line-height:7.56px;color:#8a90b0;"><i class="k">体动的强度</i></div><div class="t " style="left:232.60px;top:1702.60px;font-size:10.5px;line-height:12.60px;color:#56649a;font-weight:bold">5</div><div class="t " style="left:231.60px;top:1716.42px;font-size:6.3px;line-height:7.56px;color:#8a90b0;"><i class="k">睡眠呼吸暂停的持续时间</i></div><div style="left:317.00px;top:1614.00px;width:153.50px;height:120.00px;border:1px solid #e4eefa;border-radius:3px;background:#fff"></div><div class="t " style="left:328.40px;top:1629.72px;font-size:6.3px;line-height:7.56px;color:#6c7292;"><i class="k">患者</i>: <i class="k">小白</i></div><div class="t " style="left:373.20px;top:1629.72px;font-size:6.3px;line-height:7.56px;color:#6c7292;"><i class="k">病床</i>: 01-17</div><div class="t " style="left:328.40px;top:1641.30px;font-size:8px;line-height:9.60px;color:#f5a20a;font-weight:bold"><i class="k">状态：离床</i></div><svg style="left:405px;top:1614px" width="60" height="45" viewBox="0 0 60 45"><defs><linearGradient id="yb5664" x1="0" y1="0" x2="1" y2="1"><stop offset="0" stop-color="#f9e63c"/><stop offset="1" stop-color="#f4b21c"/></linearGradient></defs><path d="M8.5 25 L23 16.5 L57 37 L42 45 Z" fill="#c9cde8" stroke="#c9cde8" stroke-width="1.5" stroke-linejoin="round"/><path d="M8.5 17 L23 8.5 L57 29 L42 37 Z" fill="url(#yb5664)" stroke="#f5c222" stroke-width="1.5" stroke-linejoin="round"/><path d="M33 14.5 L35 27.5 L44 27.5 L42 17.5 L50 21 L44 14 Z" fill="#fff"/><path d="M41.5 17.5 L51 21 L45 30 Z" fill="#d9a640"/><circle cx="40.5" cy="7" r="3.3" fill="#e09a12"/><path d="M39.5 9.5 L40.5 13.5" stroke="#e09a12" stroke-width="1.6"/><path d="M52 19 L53.5 20.5 M55 20 L56.5 21.5" stroke="#6a7a20" stroke-width="1.5"/></svg><div style="left:325.20px;top:1661.60px;width:138.00px;height:0.80px;background:#edf1f8"></div><div class="t " style="left:332.10px;top:1669.10px;font-size:10.5px;line-height:12.60px;color:#5a689c;font-weight:bold">48</div><div class="t " style="left:332.10px;top:1684.82px;font-size:6.3px;line-height:7.56px;color:#8a90b0;"><i class="k">呼吸</i>(<i class="k">次</i>/<i class="k">分</i>)</div><div class="t " style="left:391.60px;top:1669.10px;font-size:10.5px;line-height:12.60px;color:#5a689c;font-weight:bold">48</div><div class="t " style="left:391.60px;top:1684.82px;font-size:6.3px;line-height:7.56px;color:#8a90b0;"><i class="k">心率</i>(<i class="k">次</i>/<i class="k">分</i>)</div><div class="t " style="left:332.10px;top:1702.60px;font-size:10.5px;line-height:12.60px;color:#56649a;font-weight:bold">20</div><div class="t " style="left:332.10px;top:1716.42px;font-size:6.3px;line-height:7.56px;color:#8a90b0;"><i class="k">体动的强度</i></div><div class="t " style="left:391.60px;top:1702.60px;font-size:10.5px;line-height:12.60px;color:#56649a;font-weight:bold">5</div><div class="t " style="left:390.60px;top:1716.42px;font-size:6.3px;line-height:7.56px;color:#8a90b0;"><i class="k">睡眠呼吸暂停的持续时间</i></div><div style="left:475.50px;top:1614.00px;width:153.50px;height:120.00px;border:1px solid #e4eefa;border-radius:3px;background:#fff"></div><div class="t " style="left:486.90px;top:1629.72px;font-size:6.3px;line-height:7.56px;color:#6c7292;"><i class="k">患者</i>: <i class="k">小宝</i></div><div class="t " style="left:531.70px;top:1629.72px;font-size:6.3px;line-height:7.56px;color:#6c7292;"><i class="k">病床</i>: 01-16</div><div class="t " style="left:486.90px;top:1641.30px;font-size:8px;line-height:9.60px;color:#1e88f0;font-weight:bold"><i class="k">状态：在床</i></div><svg style="left:567.0px;top:1616.8px" width="60" height="45" viewBox="0 0 60 45"><defs><linearGradient id="bb7291" x1="0" y1="0" x2="1" y2="1"><stop offset="0" stop-color="#2f74d6"/><stop offset="1" stop-color="#1b4fae"/></linearGradient></defs><path d="M6 22.5 L21 14 L55 34 L40 42.5 Z" fill="#c8cce8" stroke="#c8cce8" stroke-width="1.5" stroke-linejoin="round"/><path d="M6 17 L40 37 L55 28.5 L55 26.5 L40 35 L6 15 Z" fill="#dfe6fb"/><path d="M6 15 L21 6.5 L55 26.5 L40 35 Z" fill="url(#bb7291)" stroke="#2a66c8" stroke-width="1.6" stroke-linejoin="round"/><path d="M19.51 8.14 L26.15 12.04 L17.45 16.97 L10.81 13.07 Z" fill="#fff"/><path d="M23.82 11.37 L35.89 18.47 L26.66 23.70 L14.60 16.60 Z" fill="#9fb8ea"/><path d="M35.02 18.96 L47.52 26.32 L43.86 28.39 L31.36 21.03 Z" fill="#8199da"/><path d="M31.02 21.23 L43.51 28.58 L39.86 30.65 L27.36 23.30 Z" fill="#8199da"/><path d="M47.43 25.86 L50.45 27.64 L46.80 29.71 L43.78 27.94 Z" fill="#fff"/><path d="M42.91 28.43 L45.93 30.20 L42.27 32.27 L39.26 30.50 Z" fill="#fff"/><circle cx="18.10" cy="11.33" r="2.7" fill="#1d1d1d"/><circle cx="18.27" cy="12.23" r="1.6" fill="#f5c6ae"/><circle cx="34.52" cy="16.26" r="1.1" fill="#f0b070"/><circle cx="23.38" cy="22.57" r="1.1" fill="#f0b070"/></svg><div style="left:483.70px;top:1661.60px;width:138.00px;height:0.80px;background:#edf1f8"></div><div class="t " style="left:490.60px;top:1669.10px;font-size:10.5px;line-height:12.60px;color:#5a689c;font-weight:bold">48</div><div class="t " style="left:490.60px;top:1684.82px;font-size:6.3px;line-height:7.56px;color:#8a90b0;"><i class="k">呼吸</i>(<i class="k">次</i>/<i class="k">分</i>)</div><div class="t " style="left:550.10px;top:1669.10px;font-size:10.5px;line-height:12.60px;color:#5a689c;font-weight:bold">48</div><div class="t " style="left:550.10px;top:1684.82px;font-size:6.3px;line-height:7.56px;color:#8a90b0;"><i class="k">心率</i>(<i class="k">次</i>/<i class="k">分</i>)</div><div class="t " style="left:490.60px;top:1702.60px;font-size:10.5px;line-height:12.60px;color:#56649a;font-weight:bold">20</div><div class="t " style="left:490.60px;top:1716.42px;font-size:6.3px;line-height:7.56px;color:#8a90b0;"><i class="k">体动的强度</i></div><div class="t " style="left:550.10px;top:1702.60px;font-size:10.5px;line-height:12.60px;color:#56649a;font-weight:bold">5</div><div class="t " style="left:549.10px;top:1716.42px;font-size:6.3px;line-height:7.56px;color:#8a90b0;"><i class="k">睡眠呼吸暂停的持续时间</i></div><div style="left:634.00px;top:1614.00px;width:153.50px;height:120.00px;border:1px solid #e4eefa;border-radius:3px;background:#fff"></div><div class="t " style="left:645.40px;top:1629.72px;font-size:6.3px;line-height:7.56px;color:#6c7292;"><i class="k">患者</i>: <i class="k">小白</i></div><div class="t " style="left:690.20px;top:1629.72px;font-size:6.3px;line-height:7.56px;color:#6c7292;"><i class="k">病床</i>: 01-17</div><div class="t " style="left:645.40px;top:1641.30px;font-size:8px;line-height:9.60px;color:#f5a20a;font-weight:bold"><i class="k">状态：离床</i></div><svg style="left:722px;top:1614px" width="60" height="45" viewBox="0 0 60 45"><defs><linearGradient id="yb8834" x1="0" y1="0" x2="1" y2="1"><stop offset="0" stop-color="#f9e63c"/><stop offset="1" stop-color="#f4b21c"/></linearGradient></defs><path d="M8.5 25 L23 16.5 L57 37 L42 45 Z" fill="#c9cde8" stroke="#c9cde8" stroke-width="1.5" stroke-linejoin="round"/><path d="M8.5 17 L23 8.5 L57 29 L42 37 Z" fill="url(#yb8834)" stroke="#f5c222" stroke-width="1.5" stroke-linejoin="round"/><path d="M33 14.5 L35 27.5 L44 27.5 L42 17.5 L50 21 L44 14 Z" fill="#fff"/><path d="M41.5 17.5 L51 21 L45 30 Z" fill="#d9a640"/><circle cx="40.5" cy="7" r="3.3" fill="#e09a12"/><path d="M39.5 9.5 L40.5 13.5" stroke="#e09a12" stroke-width="1.6"/><path d="M52 19 L53.5 20.5 M55 20 L56.5 21.5" stroke="#6a7a20" stroke-width="1.5"/></svg><div style="left:642.20px;top:1661.60px;width:138.00px;height:0.80px;background:#edf1f8"></div><div class="t " style="left:649.10px;top:1669.10px;font-size:10.5px;line-height:12.60px;color:#5a689c;font-weight:bold">48</div><div class="t " style="left:649.10px;top:1684.82px;font-size:6.3px;line-height:7.56px;color:#8a90b0;"><i class="k">呼吸</i>(<i class="k">次</i>/<i class="k">分</i>)</div><div class="t " style="left:708.60px;top:1669.10px;font-size:10.5px;line-height:12.60px;color:#5a689c;font-weight:bold">48</div><div class="t " style="left:708.60px;top:1684.82px;font-size:6.3px;line-height:7.56px;color:#8a90b0;"><i class="k">心率</i>(<i class="k">次</i>/<i class="k">分</i>)</div><div class="t " style="left:649.10px;top:1702.60px;font-size:10.5px;line-height:12.60px;color:#56649a;font-weight:bold">20</div><div class="t " style="left:649.10px;top:1716.42px;font-size:6.3px;line-height:7.56px;color:#8a90b0;"><i class="k">体动的强度</i></div><div class="t " style="left:708.60px;top:1702.60px;font-size:10.5px;line-height:12.60px;color:#56649a;font-weight:bold">5</div><div class="t " style="left:707.60px;top:1716.42px;font-size:6.3px;line-height:7.56px;color:#8a90b0;"><i class="k">睡眠呼吸暂停的持续时间</i></div><div style="left:158.00px;top:1740.00px;width:153.50px;height:120.00px;border:1px solid #e4eefa;border-radius:3px;background:#fff"></div><div class="t " style="left:169.40px;top:1755.72px;font-size:6.3px;line-height:7.56px;color:#6c7292;"><i class="k">患者</i>: <i class="k">小白</i></div><div class="t " style="left:214.20px;top:1755.72px;font-size:6.3px;line-height:7.56px;color:#6c7292;"><i class="k">病床</i>: 01-17</div><div class="t " style="left:169.40px;top:1767.30px;font-size:8px;line-height:9.60px;color:#f5a20a;font-weight:bold"><i class="k">状态：离床</i></div><svg style="left:246px;top:1740px" width="60" height="45" viewBox="0 0 60 45"><defs><linearGradient id="yb4200" x1="0" y1="0" x2="1" y2="1"><stop offset="0" stop-color="#f9e63c"/><stop offset="1" stop-color="#f4b21c"/></linearGradient></defs><path d="M8.5 25 L23 16.5 L57 37 L42 45 Z" fill="#c9cde8" stroke="#c9cde8" stroke-width="1.5" stroke-linejoin="round"/><path d="M8.5 17 L23 8.5 L57 29 L42 37 Z" fill="url(#yb4200)" stroke="#f5c222" stroke-width="1.5" stroke-linejoin="round"/><path d="M33 14.5 L35 27.5 L44 27.5 L42 17.5 L50 21 L44 14 Z" fill="#fff"/><path d="M41.5 17.5 L51 21 L45 30 Z" fill="#d9a640"/><circle cx="40.5" cy="7" r="3.3" fill="#e09a12"/><path d="M39.5 9.5 L40.5 13.5" stroke="#e09a12" stroke-width="1.6"/><path d="M52 19 L53.5 20.5 M55 20 L56.5 21.5" stroke="#6a7a20" stroke-width="1.5"/></svg><div style="left:166.20px;top:1787.60px;width:138.00px;height:0.80px;background:#edf1f8"></div><div class="t " style="left:173.10px;top:1795.10px;font-size:10.5px;line-height:12.60px;color:#5a689c;font-weight:bold">48</div><div class="t " style="left:173.10px;top:1810.82px;font-size:6.3px;line-height:7.56px;color:#8a90b0;"><i class="k">呼吸</i>(<i class="k">次</i>/<i class="k">分</i>)</div><div class="t " style="left:232.60px;top:1795.10px;font-size:10.5px;line-height:12.60px;color:#5a689c;font-weight:bold">48</div><div class="t " style="left:232.60px;top:1810.82px;font-size:6.3px;line-height:7.56px;color:#8a90b0;"><i class="k">心率</i>(<i class="k">次</i>/<i class="k">分</i>)</div><div class="t " style="left:173.10px;top:1828.60px;font-size:10.5px;line-height:12.60px;color:#56649a;font-weight:bold">20</div><div class="t " style="left:173.10px;top:1842.42px;font-size:6.3px;line-height:7.56px;color:#8a90b0;"><i class="k">体动的强度</i></div><div class="t " style="left:232.60px;top:1828.60px;font-size:10.5px;line-height:12.60px;color:#56649a;font-weight:bold">5</div><div class="t " style="left:231.60px;top:1842.42px;font-size:6.3px;line-height:7.56px;color:#8a90b0;"><i class="k">睡眠呼吸暂停的持续时间</i></div><div style="left:317.00px;top:1740.00px;width:153.50px;height:120.00px;border:1px solid #e4eefa;border-radius:3px;background:#fff"></div><div class="t " style="left:328.40px;top:1755.72px;font-size:6.3px;line-height:7.56px;color:#6c7292;"><i class="k">患者</i>: <i class="k">小白</i></div><div class="t " style="left:373.20px;top:1755.72px;font-size:6.3px;line-height:7.56px;color:#6c7292;"><i class="k">病床</i>: 01-17</div><div class="t " style="left:328.40px;top:1767.30px;font-size:8px;line-height:9.60px;color:#f5a20a;font-weight:bold"><i class="k">状态：离床</i></div><svg style="left:405px;top:1740px" width="60" height="45" viewBox="0 0 60 45"><defs><linearGradient id="yb5790" x1="0" y1="0" x2="1" y2="1"><stop offset="0" stop-color="#f9e63c"/><stop offset="1" stop-color="#f4b21c"/></linearGradient></defs><path d="M8.5 25 L23 16.5 L57 37 L42 45 Z" fill="#c9cde8" stroke="#c9cde8" stroke-width="1.5" stroke-linejoin="round"/><path d="M8.5 17 L23 8.5 L57 29 L42 37 Z" fill="url(#yb5790)" stroke="#f5c222" stroke-width="1.5" stroke-linejoin="round"/><path d="M33 14.5 L35 27.5 L44 27.5 L42 17.5 L50 21 L44 14 Z" fill="#fff"/><path d="M41.5 17.5 L51 21 L45 30 Z" fill="#d9a640"/><circle cx="40.5" cy="7" r="3.3" fill="#e09a12"/><path d="M39.5 9.5 L40.5 13.5" stroke="#e09a12" stroke-width="1.6"/><path d="M52 19 L53.5 20.5 M55 20 L56.5 21.5" stroke="#6a7a20" stroke-width="1.5"/></svg><div style="left:325.20px;top:1787.60px;width:138.00px;height:0.80px;background:#edf1f8"></div><div class="t " style="left:332.10px;top:1795.10px;font-size:10.5px;line-height:12.60px;color:#5a689c;font-weight:bold">48</div><div class="t " style="left:332.10px;top:1810.82px;font-size:6.3px;line-height:7.56px;color:#8a90b0;"><i class="k">呼吸</i>(<i class="k">次</i>/<i class="k">分</i>)</div><div class="t " style="left:391.60px;top:1795.10px;font-size:10.5px;line-height:12.60px;color:#5a689c;font-weight:bold">48</div><div class="t " style="left:391.60px;top:1810.82px;font-size:6.3px;line-height:7.56px;color:#8a90b0;"><i class="k">心率</i>(<i class="k">次</i>/<i class="k">分</i>)</div><div class="t " style="left:332.10px;top:1828.60px;font-size:10.5px;line-height:12.60px;color:#56649a;font-weight:bold">20</div><div class="t " style="left:332.10px;top:1842.42px;font-size:6.3px;line-height:7.56px;color:#8a90b0;"><i class="k">体动的强度</i></div><div class="t " style="left:391.60px;top:1828.60px;font-size:10.5px;line-height:12.60px;color:#56649a;font-weight:bold">5</div><div class="t " style="left:390.60px;top:1842.42px;font-size:6.3px;line-height:7.56px;color:#8a90b0;"><i class="k">睡眠呼吸暂停的持续时间</i></div><div style="left:475.50px;top:1740.00px;width:153.50px;height:120.00px;border:1px solid #e4eefa;border-radius:3px;background:#fff"></div><div class="t " style="left:486.90px;top:1755.72px;font-size:6.3px;line-height:7.56px;color:#6c7292;"><i class="k">患者</i>: <i class="k">小宝</i></div><div class="t " style="left:531.70px;top:1755.72px;font-size:6.3px;line-height:7.56px;color:#6c7292;"><i class="k">病床</i>: 01-16</div><div class="t " style="left:486.90px;top:1767.30px;font-size:8px;line-height:9.60px;color:#1e88f0;font-weight:bold"><i class="k">状态：在床</i></div><svg style="left:567.0px;top:1742.8px" width="60" height="45" viewBox="0 0 60 45"><defs><linearGradient id="bb7417" x1="0" y1="0" x2="1" y2="1"><stop offset="0" stop-color="#2f74d6"/><stop offset="1" stop-color="#1b4fae"/></linearGradient></defs><path d="M6 22.5 L21 14 L55 34 L40 42.5 Z" fill="#c8cce8" stroke="#c8cce8" stroke-width="1.5" stroke-linejoin="round"/><path d="M6 17 L40 37 L55 28.5 L55 26.5 L40 35 L6 15 Z" fill="#dfe6fb"/><path d="M6 15 L21 6.5 L55 26.5 L40 35 Z" fill="url(#bb7417)" stroke="#2a66c8" stroke-width="1.6" stroke-linejoin="round"/><path d="M19.51 8.14 L26.15 12.04 L17.45 16.97 L10.81 13.07 Z" fill="#fff"/><path d="M23.82 11.37 L35.89 18.47 L26.66 23.70 L14.60 16.60 Z" fill="#9fb8ea"/><path d="M35.02 18.96 L47.52 26.32 L43.86 28.39 L31.36 21.03 Z" fill="#8199da"/><path d="M31.02 21.23 L43.51 28.58 L39.86 30.65 L27.36 23.30 Z" fill="#8199da"/><path d="M47.43 25.86 L50.45 27.64 L46.80 29.71 L43.78 27.94 Z" fill="#fff"/><path d="M42.91 28.43 L45.93 30.20 L42.27 32.27 L39.26 30.50 Z" fill="#fff"/><circle cx="18.10" cy="11.33" r="2.7" fill="#1d1d1d"/><circle cx="18.27" cy="12.23" r="1.6" fill="#f5c6ae"/><circle cx="34.52" cy="16.26" r="1.1" fill="#f0b070"/><circle cx="23.38" cy="22.57" r="1.1" fill="#f0b070"/></svg><div style="left:483.70px;top:1787.60px;width:138.00px;height:0.80px;background:#edf1f8"></div><div class="t " style="left:490.60px;top:1795.10px;font-size:10.5px;line-height:12.60px;color:#5a689c;font-weight:bold">48</div><div class="t " style="left:490.60px;top:1810.82px;font-size:6.3px;line-height:7.56px;color:#8a90b0;"><i class="k">呼吸</i>(<i class="k">次</i>/<i class="k">分</i>)</div><div class="t " style="left:550.10px;top:1795.10px;font-size:10.5px;line-height:12.60px;color:#5a689c;font-weight:bold">48</div><div class="t " style="left:550.10px;top:1810.82px;font-size:6.3px;line-height:7.56px;color:#8a90b0;"><i class="k">心率</i>(<i class="k">次</i>/<i class="k">分</i>)</div><div class="t " style="left:490.60px;top:1828.60px;font-size:10.5px;line-height:12.60px;color:#56649a;font-weight:bold">20</div><div class="t " style="left:490.60px;top:1842.42px;font-size:6.3px;line-height:7.56px;color:#8a90b0;"><i class="k">体动的强度</i></div><div class="t " style="left:550.10px;top:1828.60px;font-size:10.5px;line-height:12.60px;color:#56649a;font-weight:bold">5</div><div class="t " style="left:549.10px;top:1842.42px;font-size:6.3px;line-height:7.56px;color:#8a90b0;"><i class="k">睡眠呼吸暂停的持续时间</i></div><div style="left:634.00px;top:1740.00px;width:153.50px;height:120.00px;border:1px solid #e4eefa;border-radius:3px;background:#fff"></div><div class="t " style="left:645.40px;top:1755.72px;font-size:6.3px;line-height:7.56px;color:#6c7292;"><i class="k">患者</i>: <i class="k">小白</i></div><div class="t " style="left:690.20px;top:1755.72px;font-size:6.3px;line-height:7.56px;color:#6c7292;"><i class="k">病床</i>: 01-17</div><div class="t " style="left:645.40px;top:1767.30px;font-size:8px;line-height:9.60px;color:#f5a20a;font-weight:bold"><i class="k">状态：离床</i></div><svg style="left:722px;top:1740px" width="60" height="45" viewBox="0 0 60 45"><defs><linearGradient id="yb8960" x1="0" y1="0" x2="1" y2="1"><stop offset="0" stop-color="#f9e63c"/><stop offset="1" stop-color="#f4b21c"/></linearGradient></defs><path d="M8.5 25 L23 16.5 L57 37 L42 45 Z" fill="#c9cde8" stroke="#c9cde8" stroke-width="1.5" stroke-linejoin="round"/><path d="M8.5 17 L23 8.5 L57 29 L42 37 Z" fill="url(#yb8960)" stroke="#f5c222" stroke-width="1.5" stroke-linejoin="round"/><path d="M33 14.5 L35 27.5 L44 27.5 L42 17.5 L50 21 L44 14 Z" fill="#fff"/><path d="M41.5 17.5 L51 21 L45 30 Z" fill="#d9a640"/><circle cx="40.5" cy="7" r="3.3" fill="#e09a12"/><path d="M39.5 9.5 L40.5 13.5" stroke="#e09a12" stroke-width="1.6"/><path d="M52 19 L53.5 20.5 M55 20 L56.5 21.5" stroke="#6a7a20" stroke-width="1.5"/></svg><div style="left:642.20px;top:1787.60px;width:138.00px;height:0.80px;background:#edf1f8"></div><div class="t " style="left:649.10px;top:1795.10px;font-size:10.5px;line-height:12.60px;color:#5a689c;font-weight:bold">48</div><div class="t " style="left:649.10px;top:1810.82px;font-size:6.3px;line-height:7.56px;color:#8a90b0;"><i class="k">呼吸</i>(<i class="k">次</i>/<i class="k">分</i>)</div><div class="t " style="left:708.60px;top:1795.10px;font-size:10.5px;line-height:12.60px;color:#5a689c;font-weight:bold">48</div><div class="t " style="left:708.60px;top:1810.82px;font-size:6.3px;line-height:7.56px;color:#8a90b0;"><i class="k">心率</i>(<i class="k">次</i>/<i class="k">分</i>)</div><div class="t " style="left:649.10px;top:1828.60px;font-size:10.5px;line-height:12.60px;color:#56649a;font-weight:bold">20</div><div class="t " style="left:649.10px;top:1842.42px;font-size:6.3px;line-height:7.56px;color:#8a90b0;"><i class="k">体动的强度</i></div><div class="t " style="left:708.60px;top:1828.60px;font-size:10.5px;line-height:12.60px;color:#56649a;font-weight:bold">5</div><div class="t " style="left:707.60px;top:1842.42px;font-size:6.3px;line-height:7.56px;color:#8a90b0;"><i class="k">睡眠呼吸暂停的持续时间</i></div></div></div><script>(function(){var t=document.createElement("i");t.className="k";t.style.cssText="position:absolute;left:0;top:0;font-size:100px;letter-spacing:0;visibility:hidden;white-space:nowrap";t.textContent="\u4e2d\u4e2d\u4e2d\u4e2d";document.body.appendChild(t);var w=t.getBoundingClientRect().width;document.body.removeChild(t);if(w>360){document.body.classList.add("cjk");}})();</script></body></html>
